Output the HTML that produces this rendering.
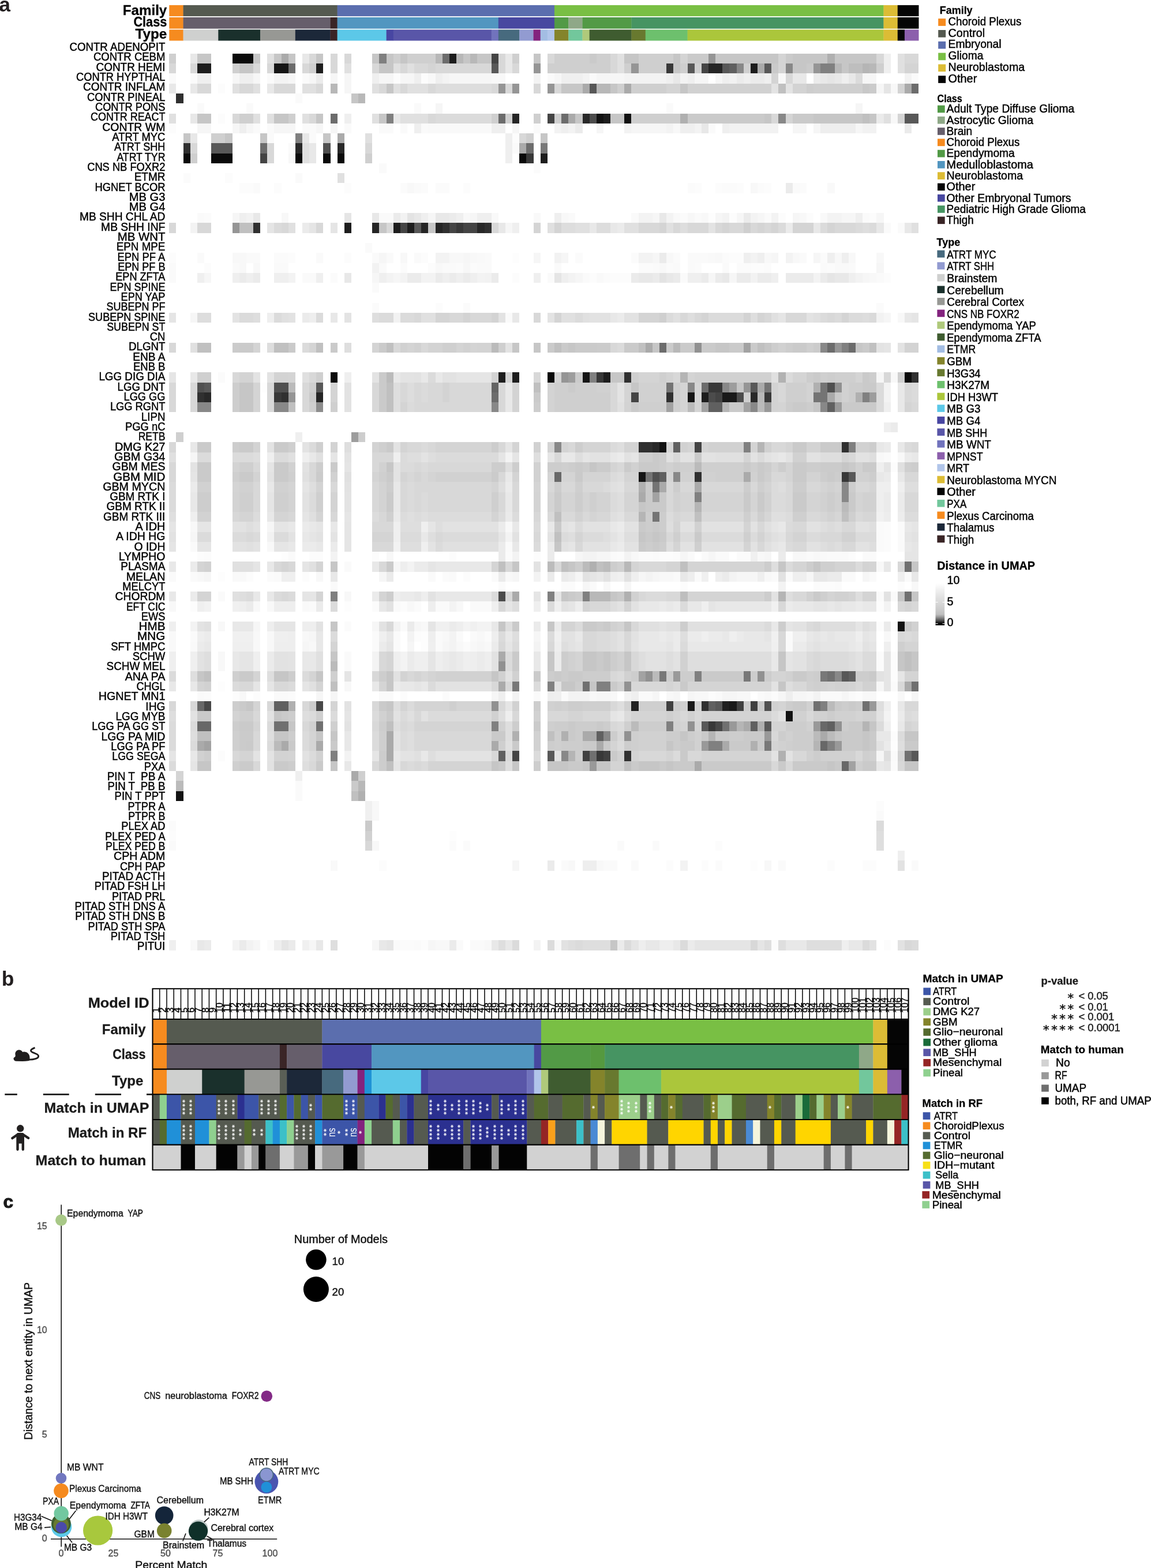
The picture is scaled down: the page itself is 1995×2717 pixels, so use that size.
<!DOCTYPE html>
<html lang="en"><head><meta charset="utf-8"><title>Figure</title>
<style>
html,body{margin:0;padding:0;background:#fff}
body{width:1995px;height:2717px;overflow:hidden}
svg{display:block;font-family:"Liberation Sans",sans-serif}
svg text{white-space:pre}
</style></head><body>
<svg width="1995" height="2717" viewBox="0 0 1995 2717">
<g id="panel-a">
<rect x="293.30" y="8.90" width="24.58" height="19.30" fill="#f68b1f"/>
<rect x="317.58" y="8.90" width="267.36" height="19.30" fill="#555a50"/>
<rect x="584.64" y="8.90" width="376.62" height="19.30" fill="#5b6eae"/>
<rect x="960.96" y="8.90" width="570.84" height="19.30" fill="#79bf44"/>
<rect x="1531.50" y="8.90" width="24.58" height="19.30" fill="#dcbc35"/>
<rect x="1555.78" y="8.90" width="36.72" height="19.30" fill="#050505"/>
<rect x="293.30" y="30.00" width="24.58" height="19.70" fill="#f68b1f"/>
<rect x="317.58" y="30.00" width="255.22" height="19.70" fill="#665e6b"/>
<rect x="572.50" y="30.00" width="12.44" height="19.70" fill="#3a2526"/>
<rect x="584.64" y="30.00" width="279.50" height="19.70" fill="#5296c0"/>
<rect x="863.84" y="30.00" width="97.41" height="19.70" fill="#4848a0"/>
<rect x="960.96" y="30.00" width="24.58" height="19.70" fill="#529a46"/>
<rect x="985.24" y="30.00" width="24.58" height="19.70" fill="#8fa888"/>
<rect x="1009.52" y="30.00" width="85.27" height="19.70" fill="#529a46"/>
<rect x="1094.49" y="30.00" width="437.31" height="19.70" fill="#469462"/>
<rect x="1531.50" y="30.00" width="24.58" height="19.70" fill="#dcbc35"/>
<rect x="1555.78" y="30.00" width="36.72" height="19.70" fill="#050505"/>
<rect x="293.30" y="51.30" width="24.58" height="19.20" fill="#f68b1f"/>
<rect x="317.58" y="51.30" width="61.00" height="19.20" fill="#cfd0cf"/>
<rect x="378.27" y="51.30" width="73.14" height="19.20" fill="#1a302c"/>
<rect x="451.11" y="51.30" width="61.00" height="19.20" fill="#979894"/>
<rect x="511.81" y="51.30" width="61.00" height="19.20" fill="#1c2839"/>
<rect x="572.50" y="51.30" width="12.44" height="19.20" fill="#3a2526"/>
<rect x="584.64" y="51.30" width="85.27" height="19.20" fill="#5cc8e8"/>
<rect x="669.62" y="51.30" width="12.44" height="19.20" fill="#4846a2"/>
<rect x="681.76" y="51.30" width="170.25" height="19.20" fill="#5956a8"/>
<rect x="851.71" y="51.30" width="12.44" height="19.20" fill="#7173bd"/>
<rect x="863.84" y="51.30" width="36.72" height="19.20" fill="#476a7e"/>
<rect x="900.26" y="51.30" width="24.58" height="19.20" fill="#929bd1"/>
<rect x="924.54" y="51.30" width="12.44" height="19.20" fill="#83237e"/>
<rect x="936.68" y="51.30" width="12.44" height="19.20" fill="#a3bde3"/>
<rect x="948.82" y="51.30" width="12.44" height="19.20" fill="#b1c5ea"/>
<rect x="960.96" y="51.30" width="24.58" height="19.20" fill="#84842b"/>
<rect x="985.24" y="51.30" width="24.58" height="19.20" fill="#72c79c"/>
<rect x="1009.52" y="51.30" width="12.44" height="19.20" fill="#afc97b"/>
<rect x="1021.66" y="51.30" width="73.14" height="19.20" fill="#3f5c30"/>
<rect x="1094.49" y="51.30" width="24.58" height="19.20" fill="#68792f"/>
<rect x="1118.77" y="51.30" width="73.14" height="19.20" fill="#6dc06d"/>
<rect x="1191.60" y="51.30" width="340.20" height="19.20" fill="#abc63b"/>
<rect x="1531.50" y="51.30" width="24.58" height="19.20" fill="#dcbc35"/>
<rect x="1555.78" y="51.30" width="12.44" height="19.20" fill="#050505"/>
<rect x="1567.92" y="51.30" width="24.58" height="19.20" fill="#8c5fac"/>
<text x="-1.80" y="19.50" font-size="35.5" font-weight="bold" fill="#231f20">a</text>
<text x="289.3" y="26.1" font-size="24.5" text-anchor="end" font-weight="bold" stroke="#000" stroke-width="0.3" textLength="76.5" lengthAdjust="spacingAndGlyphs">Family</text>
<text x="289.3" y="45.7" font-size="24.5" text-anchor="end" font-weight="bold" stroke="#000" stroke-width="0.3" textLength="57.9" lengthAdjust="spacingAndGlyphs">Class</text>
<text x="289.3" y="66.9" font-size="24.5" text-anchor="end" font-weight="bold" stroke="#000" stroke-width="0.3" textLength="54.9" lengthAdjust="spacingAndGlyphs">Type</text>
<g shape-rendering="crispEdges" transform="translate(293.3,75.7) scale(12.1393,17.264)">
<path fill="#0a0a0a" d="M9 1h3v1h-3zM2 11h1v1h-1zM6 11h3v1h-3zM18 11h1v1h-1zM22 11h1v1h-1zM24 11h1v1h-1zM50 11h1v1h-1zM23 33h1v1h-1zM54 33h1v1h-1zM105 33h1v1h-1z"/>
<path fill="#121212" d="M61 7h1v1h-1zM65 7h1v1h-1zM70 40h1v1h-1zM104 58h1v1h-1zM88 67h1v1h-1zM1 75h1v1h-1z"/>
<path fill="#151515" d="M15 2h2v1h-2zM59 33h1v1h-1zM74 35h1v1h-1zM67 43h1v1h-1z"/>
<path fill="#191919" d="M79 35h2v1h-2zM74 66h1v1h-1zM80 66h1v1h-1z"/>
<path fill="#1d1d1d" d="M40 1h1v1h-1zM4 2h2v1h-2zM21 2h1v1h-1zM83 2h1v1h-1zM62 7h1v1h-1zM53 11h1v1h-1zM25 18h1v1h-1zM32 18h1v1h-1zM34 18h1v1h-1zM47 33h1v1h-1zM49 33h1v1h-1zM62 33h1v1h-1zM76 35h1v1h-1z"/>
<path fill="#212121" d="M66 66h1v1h-1zM79 66h1v1h-1z"/>
<path fill="#252525" d="M77 2h2v1h-2zM49 7h1v1h-1zM29 18h1v1h-1zM36 18h1v1h-1zM38 18h1v1h-1zM21 35h1v1h-1z"/>
<path fill="#282828" d="M59 7h1v1h-1zM18 10h1v1h-1zM24 10h1v1h-1zM44 18h1v1h-1zM5 35h1v1h-1zM83 35h1v1h-1zM69 40h1v1h-1z"/>
<path fill="#303030" d="M1 5h1v1h-1zM2 10h1v1h-1zM12 18h1v1h-1zM39 18h1v1h-1zM45 18h1v1h-1zM65 33h1v1h-1zM106 33h1v1h-1zM4 35h1v1h-1zM16 35h1v1h-1zM71 35h1v1h-1zM67 40h2v1h-2zM96 40h1v1h-1zM75 43h1v1h-1zM76 66h1v1h-1zM65 71h1v1h-1z"/>
<path fill="#383838" d="M71 2h1v1h-1zM51 11h1v1h-1zM41 18h1v1h-1zM61 33h1v1h-1zM77 34h2v1h-2zM15 35h1v1h-1zM85 35h1v1h-1zM96 43h1v1h-1zM77 68h1v1h-1zM61 71h1v1h-1z"/>
<path fill="#404040" d="M71 66h1v1h-1zM81 66h1v1h-1zM83 66h1v1h-1zM59 71h1v1h-1zM62 71h1v1h-1z"/>
<path fill="#444444" d="M46 1h1v1h-1zM76 2h1v1h-1zM54 7h1v1h-1zM13 11h1v1h-1zM33 18h1v1h-1zM40 18h1v1h-1zM42 18h2v1h-2zM66 35h1v1h-1zM78 35h1v1h-1zM75 40h1v1h-1zM49 71h1v1h-1z"/>
<path fill="#484848" d="M5 66h1v1h-1zM21 66h1v1h-1zM78 68h1v1h-1z"/>
<path fill="#4c4c4c" d="M60 7h1v1h-1zM77 35h1v1h-1zM81 35h1v1h-1zM47 55h1v1h-1z"/>
<path fill="#505050" d="M22 10h1v1h-1zM4 34h1v1h-1zM15 34h2v1h-2zM94 34h1v1h-1zM69 43h1v1h-1zM85 66h1v1h-1z"/>
<path fill="#585858" d="M46 2h1v1h-1zM74 2h1v1h-1zM79 2h1v1h-1zM85 2h1v1h-1zM60 4h1v1h-1zM105 7h2v1h-2zM6 10h3v1h-3zM35 18h1v1h-1zM5 34h1v1h-1zM21 34h1v1h-1zM83 34h1v1h-1zM97 43h1v1h-1zM96 63h1v1h-1zM78 66h1v1h-1zM76 68h1v1h-1zM85 68h1v1h-1zM54 71h1v1h-1zM106 71h1v1h-1z"/>
<path fill="#606060" d="M80 2h1v1h-1zM77 36h2v1h-2zM94 36h1v1h-1zM72 40h1v1h-1zM70 43h1v1h-1zM97 63h1v1h-1zM15 66h2v1h-2zM77 66h1v1h-1zM83 68h1v1h-1zM94 68h1v1h-1zM61 69h1v1h-1zM47 71h1v1h-1z"/>
<path fill="#646464" d="M46 34h1v1h-1z"/>
<path fill="#686868" d="M55 43h1v1h-1zM4 66h1v1h-1zM4 68h2v1h-2zM93 68h1v1h-1zM93 70h1v1h-1zM96 72h1v1h-1z"/>
<path fill="#6c6c6c" d="M39 1h1v1h-1zM17 2h1v1h-1zM106 4h1v1h-1zM23 7h1v1h-1zM47 7h1v1h-1zM56 7h1v1h-1zM13 10h1v1h-1zM51 10h1v1h-1zM70 30h1v1h-1zM94 30h1v1h-1zM97 30h1v1h-1zM76 34h1v1h-1zM46 35h1v1h-1z"/>
<path fill="#707070" d="M105 52h1v1h-1zM105 55h1v1h-1zM94 63h1v1h-1zM59 64h1v1h-1zM106 64h1v1h-1zM92 66h1v1h-1zM99 66h1v1h-1zM15 68h2v1h-2zM21 68h1v1h-1zM79 68h1v1h-1zM60 71h1v1h-1zM105 71h1v1h-1z"/>
<path fill="#747474" d="M71 34h1v1h-1zM85 34h1v1h-1zM93 34h1v1h-1zM92 35h2v1h-2zM68 43h1v1h-1zM69 44h1v1h-1zM69 47h1v1h-1z"/>
<path fill="#787878" d="M53 10h1v1h-1zM70 63h1v1h-1zM82 63h1v1h-1zM93 63h1v1h-1zM49 64h1v1h-1zM85 70h1v1h-1z"/>
<path fill="#808080" d="M30 1h1v1h-1zM93 2h2v1h-2zM31 7h1v1h-1zM18 9h1v1h-1zM96 30h1v1h-1zM60 33h1v1h-1zM99 35h1v1h-1zM82 40h1v1h-1zM97 40h1v1h-1zM75 45h1v1h-1zM23 55h1v1h-1zM54 55h1v1h-1zM59 55h1v1h-1zM75 63h1v1h-1zM54 64h1v1h-1zM61 64h2v1h-2zM93 66h1v1h-1zM46 68h1v1h-1zM71 68h1v1h-1zM77 70h2v1h-2zM94 70h1v1h-1zM23 71h1v1h-1z"/>
<path fill="#888888" d="M81 2h1v1h-1zM88 2h1v1h-1zM87 7h1v1h-1zM93 30h1v1h-1zM74 34h1v1h-1zM79 34h1v1h-1zM4 36h2v1h-2zM15 36h2v1h-2zM46 36h1v1h-1zM83 36h1v1h-1zM93 36h1v1h-1zM55 40h1v1h-1zM72 43h1v1h-1zM96 44h1v1h-1zM96 45h1v1h-1zM95 63h1v1h-1zM62 69h1v1h-1zM56 71h1v1h-1z"/>
<path fill="#8d8d8d" d="M21 36h1v1h-1z"/>
<path fill="#919191" d="M75 30h1v1h-1zM95 34h1v1h-1zM47 62h1v1h-1zM68 63h1v1h-1zM84 63h1v1h-1zM65 64h1v1h-1zM46 66h1v1h-1zM74 68h1v1h-1zM95 68h1v1h-1zM65 69h1v1h-1z"/>
<path fill="#959595" d="M77 1h1v1h-1zM52 2h1v1h-1zM66 2h1v1h-1zM92 2h1v1h-1zM47 4h1v1h-1zM49 4h1v1h-1zM54 4h1v1h-1zM9 18h1v1h-1zM95 30h1v1h-1zM56 33h1v1h-1zM82 34h1v1h-1zM17 35h1v1h-1z"/>
<path fill="#999999" d="M85 36h1v1h-1zM95 36h1v1h-1zM72 63h1v1h-1zM100 66h1v1h-1zM80 68h1v1h-1zM92 68h1v1h-1zM85 69h1v1h-1zM76 70h1v1h-1zM95 70h1v1h-1zM60 72h1v1h-1z"/>
<path fill="#9d9d9d" d="M57 33h1v1h-1zM80 34h1v1h-1zM100 35h1v1h-1zM26 39h1v1h-1z"/>
<path fill="#a2a2a2" d="M82 30h1v1h-1zM71 36h1v1h-1zM76 36h1v1h-1zM82 36h1v1h-1zM69 45h1v1h-1zM67 63h1v1h-1zM5 70h1v1h-1zM97 72h1v1h-1z"/>
<path fill="#aaaaaa" d="M16 1h1v1h-1zM84 2h1v1h-1zM59 4h1v1h-1zM65 4h1v1h-1zM105 4h1v1h-1zM57 7h1v1h-1zM24 9h1v1h-1zM50 10h1v1h-1zM68 30h1v1h-1zM84 34h1v1h-1zM94 35h1v1h-1zM82 43h1v1h-1zM70 44h1v1h-1zM75 44h1v1h-1zM67 45h1v1h-1zM49 55h1v1h-1zM47 61h1v1h-1zM47 64h1v1h-1zM105 64h1v1h-1zM82 68h1v1h-1zM31 69h1v1h-1zM59 69h2v1h-2zM93 69h1v1h-1zM4 70h1v1h-1zM16 70h1v1h-1zM21 70h1v1h-1zM31 70h1v1h-1zM46 70h1v1h-1zM61 70h1v1h-1zM79 70h1v1h-1zM31 71h1v1h-1zM75 72h1v1h-1zM26 73h1v1h-1z"/>
<path fill="#b0b0b0" d="M94 1h1v1h-1zM73 7h1v1h-1zM92 34h1v1h-1zM98 35h1v1h-1zM67 44h1v1h-1zM60 52h1v1h-1zM65 55h1v1h-1zM17 66h1v1h-1zM84 68h1v1h-1zM49 69h1v1h-1zM56 69h1v1h-1zM83 70h1v1h-1zM87 71h1v1h-1zM27 75h1v1h-1z"/>
<path fill="#b2b2b2" d="M87 33h1v1h-1z"/>
<path fill="#b5b5b5" d="M99 2h1v1h-1zM73 33h1v1h-1zM79 36h1v1h-1zM84 40h1v1h-1zM75 46h1v1h-1zM67 47h1v1h-1zM87 55h1v1h-1zM81 68h1v1h-1zM99 68h1v1h-1zM77 69h1v1h-1zM92 70h1v1h-1zM57 71h1v1h-1z"/>
<path fill="#b8b8b8" d="M38 1h1v1h-1zM41 1h1v1h-1zM43 1h1v1h-1zM95 2h1v1h-1zM100 2h1v1h-1zM23 4h1v1h-1zM61 4h2v1h-2zM27 5h1v1h-1zM72 30h1v1h-1zM84 35h1v1h-1zM65 52h1v1h-1zM60 55h3v1h-3zM27 74h1v1h-1z"/>
<path fill="#bbbbbb" d="M46 30h1v1h-1zM31 33h1v1h-1zM17 34h1v1h-1zM74 36h1v1h-1zM84 36h1v1h-1zM75 42h1v1h-1zM96 46h1v1h-1zM54 52h1v1h-1zM59 52h1v1h-1zM62 52h1v1h-1zM23 62h1v1h-1zM69 63h1v1h-1zM94 66h1v1h-1zM66 68h1v1h-1zM92 69h1v1h-1zM94 69h1v1h-1zM15 70h1v1h-1zM1 74h1v1h-1z"/>
<path fill="#bebebe" d="M97 2h2v1h-2zM73 55h1v1h-1z"/>
<path fill="#c0c0c0" d="M87 4h1v1h-1zM99 7h1v1h-1zM10 18h2v1h-2zM4 30h2v1h-2zM15 30h2v1h-2zM21 30h1v1h-1zM31 30h1v1h-1zM55 30h1v1h-1zM67 30h1v1h-1zM84 30h1v1h-1zM100 30h1v1h-1zM31 34h1v1h-1zM52 34h1v1h-1zM31 35h1v1h-1zM17 36h1v1h-1zM31 36h1v1h-1zM55 47h1v1h-1zM75 47h1v1h-1zM96 47h1v1h-1zM55 49h1v1h-1zM47 52h1v1h-1zM56 52h1v1h-1zM61 52h1v1h-1zM73 52h1v1h-1zM105 61h1v1h-1zM105 62h1v1h-1zM5 63h1v1h-1zM23 64h1v1h-1zM31 68h1v1h-1zM4 69h2v1h-2zM54 69h1v1h-1zM31 72h1v1h-1zM65 72h1v1h-1zM26 75h1v1h-1z"/>
<path fill="#c6c6c6" d="M4 1h2v1h-2zM12 1h1v1h-1zM15 1h1v1h-1zM17 1h1v1h-1zM21 1h1v1h-1zM29 1h1v1h-1zM31 1h1v1h-1zM33 1h1v1h-1zM42 1h1v1h-1zM44 1h2v1h-2zM52 1h1v1h-1zM65 1h2v1h-2zM72 1h1v1h-1zM78 1h9v1h-9zM89 1h5v1h-5zM95 1h6v1h-6zM10 2h2v1h-2zM30 2h2v1h-2zM72 2h1v1h-1zM89 2h2v1h-2zM96 2h1v1h-1zM31 4h1v1h-1zM56 4h3v1h-3zM63 4h1v1h-1zM73 4h1v1h-1zM26 5h1v1h-1zM4 7h2v1h-2zM15 7h2v1h-2zM21 7h1v1h-1zM30 7h1v1h-1zM58 7h1v1h-1zM63 7h2v1h-2zM85 7h1v1h-1zM92 7h7v1h-7zM100 7h1v1h-1zM2 9h1v1h-1zM8 9h1v1h-1zM13 9h1v1h-1zM22 9h1v1h-1zM53 9h1v1h-1zM30 18h1v1h-1zM37 18h1v1h-1zM49 30h1v1h-1zM52 30h1v1h-1zM57 30h1v1h-1zM69 30h1v1h-1zM78 30h2v1h-2zM85 30h1v1h-1zM98 30h1v1h-1zM63 33h2v1h-2zM10 34h2v1h-2zM66 34h1v1h-1zM81 34h1v1h-1zM10 35h2v1h-2zM10 36h2v1h-2zM92 36h1v1h-1zM31 42h1v1h-1zM60 42h1v1h-1zM96 42h1v1h-1zM67 46h1v1h-1zM67 49h1v1h-1zM69 49h1v1h-1zM55 50h1v1h-1zM23 52h1v1h-1zM49 52h1v1h-1zM57 52h1v1h-1zM87 52h1v1h-1zM92 52h1v1h-1zM106 52h1v1h-1zM56 55h1v1h-1zM63 55h1v1h-1zM104 55h1v1h-1zM106 55h1v1h-1zM23 58h1v1h-1zM47 58h1v1h-1zM54 58h1v1h-1zM65 58h1v1h-1zM23 61h1v1h-1zM54 61h1v1h-1zM59 61h2v1h-2zM62 61h1v1h-1zM65 61h1v1h-1zM87 61h1v1h-1zM104 61h1v1h-1zM106 61h1v1h-1zM54 62h1v1h-1zM59 62h2v1h-2zM62 62h1v1h-1zM65 62h1v1h-1zM87 62h1v1h-1zM104 62h1v1h-1zM106 62h1v1h-1zM4 63h1v1h-1zM15 63h2v1h-2zM21 63h1v1h-1zM31 63h1v1h-1zM46 63h1v1h-1zM31 64h1v1h-1zM56 64h2v1h-2zM60 64h1v1h-1zM87 64h1v1h-1zM11 66h1v1h-1zM31 66h1v1h-1zM15 67h1v1h-1zM17 68h1v1h-1zM100 68h1v1h-1zM15 69h2v1h-2zM21 69h1v1h-1zM23 69h1v1h-1zM73 69h1v1h-1zM95 69h1v1h-1zM99 69h1v1h-1zM105 69h2v1h-2zM71 70h1v1h-1zM99 70h1v1h-1zM4 72h2v1h-2zM23 72h1v1h-1zM46 72h1v1h-1zM49 72h1v1h-1zM54 72h3v1h-3zM59 72h1v1h-1zM61 72h2v1h-2zM67 72h3v1h-3zM71 72h1v1h-1zM94 72h1v1h-1zM105 72h2v1h-2zM63 90h1v1h-1z"/>
<path fill="#c8c8c8" d="M99 4h1v1h-1z"/>
<path fill="#cacaca" d="M60 1h1v1h-1zM74 1h3v1h-3zM88 1h1v1h-1zM86 2h1v1h-1zM91 2h1v1h-1zM74 7h11v1h-11zM89 7h3v1h-3zM10 30h2v1h-2zM17 30h1v1h-1zM23 30h1v1h-1zM30 30h1v1h-1zM54 30h1v1h-1zM56 30h1v1h-1zM58 30h3v1h-3zM65 30h2v1h-2zM71 30h1v1h-1zM73 30h2v1h-2zM76 30h2v1h-2zM80 30h2v1h-2zM83 30h1v1h-1zM89 30h2v1h-2zM99 30h1v1h-1zM30 33h1v1h-1zM92 33h1v1h-1zM99 33h1v1h-1zM30 34h1v1h-1zM99 34h2v1h-2zM20 35h1v1h-1zM30 35h1v1h-1zM52 35h1v1h-1zM95 35h1v1h-1zM30 36h1v1h-1zM66 36h1v1h-1zM80 36h2v1h-2zM89 36h2v1h-2zM96 36h5v1h-5zM4 40h2v1h-2zM10 40h2v1h-2zM15 40h2v1h-2zM31 40h1v1h-1zM89 40h2v1h-2zM93 40h3v1h-3zM69 41h1v1h-1zM75 41h1v1h-1zM4 42h2v1h-2zM15 42h2v1h-2zM23 42h1v1h-1zM58 42h1v1h-1zM67 42h3v1h-3zM82 42h1v1h-1zM84 42h1v1h-1zM89 42h2v1h-2zM97 42h1v1h-1zM99 42h2v1h-2zM4 43h2v1h-2zM10 43h2v1h-2zM15 43h2v1h-2zM31 43h1v1h-1zM58 43h1v1h-1zM84 43h1v1h-1zM89 43h2v1h-2zM94 43h1v1h-1zM68 44h1v1h-1zM31 45h1v1h-1zM55 45h1v1h-1zM68 45h1v1h-1zM70 45h1v1h-1zM82 45h1v1h-1zM84 45h1v1h-1zM89 45h2v1h-2zM97 45h1v1h-1zM31 46h1v1h-1zM55 46h1v1h-1zM68 46h3v1h-3zM82 46h1v1h-1zM84 46h1v1h-1zM89 46h2v1h-2zM97 46h1v1h-1zM55 48h1v1h-1zM67 48h1v1h-1zM69 48h1v1h-1zM68 49h1v1h-1zM70 49h1v1h-1zM75 49h1v1h-1zM67 50h1v1h-1zM69 50h1v1h-1zM31 52h1v1h-1zM57 55h1v1h-1zM64 55h1v1h-1zM92 55h1v1h-1zM49 58h1v1h-1zM59 58h2v1h-2zM62 58h1v1h-1zM105 58h1v1h-1zM49 61h1v1h-1zM61 61h1v1h-1zM49 62h1v1h-1zM61 62h1v1h-1zM10 63h2v1h-2zM52 63h1v1h-1zM55 63h1v1h-1zM57 63h2v1h-2zM76 63h6v1h-6zM89 63h2v1h-2zM100 63h1v1h-1zM63 64h1v1h-1zM73 64h1v1h-1zM10 66h1v1h-1zM30 66h1v1h-1zM84 66h1v1h-1zM89 66h2v1h-2zM95 66h1v1h-1zM97 66h1v1h-1zM4 67h2v1h-2zM16 67h1v1h-1zM31 67h1v1h-1zM10 68h2v1h-2zM52 68h1v1h-1zM57 68h1v1h-1zM61 68h1v1h-1zM97 68h2v1h-2zM46 69h2v1h-2zM57 69h1v1h-1zM76 69h1v1h-1zM78 69h2v1h-2zM82 69h3v1h-3zM96 69h3v1h-3zM100 69h1v1h-1zM11 70h1v1h-1zM17 70h1v1h-1zM23 70h1v1h-1zM49 70h1v1h-1zM59 70h2v1h-2zM62 70h1v1h-1zM73 70h2v1h-2zM80 70h3v1h-3zM84 70h1v1h-1zM96 70h3v1h-3zM100 70h1v1h-1zM105 70h2v1h-2zM63 71h1v1h-1zM73 71h1v1h-1zM15 72h2v1h-2zM21 72h1v1h-1zM47 72h1v1h-1zM57 72h2v1h-2zM66 72h1v1h-1zM70 72h1v1h-1zM72 72h3v1h-3zM76 72h10v1h-10zM87 72h1v1h-1zM89 72h5v1h-5zM95 72h1v1h-1zM99 72h2v1h-2zM26 74h1v1h-1zM28 78h1v1h-1z"/>
<path fill="#cbcbcb" d="M100 4h1v1h-1zM9 30h1v1h-1zM61 30h2v1h-2zM92 30h1v1h-1zM58 33h1v1h-1zM57 34h1v1h-1zM61 42h2v1h-2zM65 42h1v1h-1zM93 42h3v1h-3zM21 43h1v1h-1zM46 43h1v1h-1zM10 69h2v1h-2zM10 70h1v1h-1zM10 72h2v1h-2z"/>
<path fill="#cdcdcd" d="M91 4h1v1h-1zM86 30h1v1h-1zM88 30h1v1h-1zM91 33h1v1h-1zM94 33h1v1h-1zM100 33h1v1h-1zM9 34h1v1h-1zM97 34h2v1h-2zM9 35h1v1h-1zM97 35h1v1h-1zM9 36h1v1h-1zM52 36h1v1h-1zM88 36h1v1h-1zM91 36h1v1h-1zM27 39h1v1h-1zM9 40h1v1h-1zM46 40h1v1h-1zM58 40h1v1h-1zM100 40h1v1h-1zM70 41h1v1h-1zM21 42h1v1h-1zM46 42h2v1h-2zM49 42h1v1h-1zM54 42h2v1h-2zM57 42h1v1h-1zM59 42h1v1h-1zM70 42h1v1h-1zM72 42h1v1h-1zM85 42h1v1h-1zM87 42h1v1h-1zM91 42h2v1h-2zM106 42h1v1h-1zM93 43h1v1h-1zM95 43h1v1h-1zM100 43h1v1h-1zM31 44h1v1h-1zM55 44h1v1h-1zM72 44h1v1h-1zM82 44h1v1h-1zM89 44h2v1h-2zM97 44h1v1h-1zM4 45h2v1h-2zM58 45h1v1h-1zM94 45h1v1h-1zM4 46h2v1h-2zM58 46h1v1h-1zM94 46h1v1h-1zM68 47h1v1h-1zM70 47h1v1h-1zM68 48h1v1h-1zM70 48h1v1h-1zM68 50h1v1h-1zM70 50h1v1h-1zM58 52h1v1h-1zM63 52h1v1h-1zM85 52h1v1h-1zM91 52h1v1h-1zM31 55h1v1h-1zM58 55h1v1h-1zM85 55h1v1h-1zM61 58h1v1h-1zM73 58h1v1h-1zM87 58h1v1h-1zM56 61h1v1h-1zM63 61h1v1h-1zM56 62h1v1h-1zM63 62h1v1h-1zM17 63h1v1h-1zM30 63h1v1h-1zM54 63h1v1h-1zM56 63h1v1h-1zM59 63h4v1h-4zM66 63h1v1h-1zM71 63h1v1h-1zM73 63h2v1h-2zM83 63h1v1h-1zM85 63h1v1h-1zM92 63h1v1h-1zM98 63h2v1h-2zM58 64h1v1h-1zM9 66h1v1h-1zM20 66h1v1h-1zM52 66h1v1h-1zM57 66h2v1h-2zM72 66h1v1h-1zM82 66h1v1h-1zM88 66h1v1h-1zM96 66h1v1h-1zM98 66h1v1h-1zM17 67h1v1h-1zM94 67h1v1h-1zM9 68h1v1h-1zM30 68h1v1h-1zM49 68h1v1h-1zM55 68h2v1h-2zM58 68h3v1h-3zM62 68h1v1h-1zM67 68h4v1h-4zM88 68h3v1h-3zM96 68h1v1h-1zM17 69h1v1h-1zM58 69h1v1h-1zM63 69h1v1h-1zM71 69h2v1h-2zM74 69h1v1h-1zM80 69h2v1h-2zM87 69h1v1h-1zM89 69h3v1h-3zM54 70h1v1h-1zM56 70h3v1h-3zM65 70h1v1h-1zM72 70h1v1h-1zM89 70h3v1h-3zM5 71h1v1h-1zM30 71h1v1h-1zM58 71h1v1h-1zM92 71h1v1h-1zM17 72h1v1h-1zM30 72h1v1h-1zM52 72h1v1h-1z"/>
<path fill="#cfcfcf" d="M0 1h1v1h-1zM32 1h1v1h-1zM34 1h4v1h-4zM49 1h1v1h-1zM55 1h5v1h-5zM61 1h2v1h-2zM67 1h5v1h-5zM9 2h1v1h-1zM20 2h1v1h-1zM54 2h9v1h-9zM65 2h1v1h-1zM67 2h4v1h-4zM73 2h1v1h-1zM75 2h1v1h-1zM82 2h1v1h-1zM101 2h1v1h-1zM64 4h1v1h-1zM66 4h5v1h-5zM92 4h7v1h-7zM10 7h2v1h-2zM17 7h1v1h-1zM46 7h1v1h-1zM48 7h1v1h-1zM52 7h1v1h-1zM55 7h1v1h-1zM66 7h7v1h-7zM6 9h2v1h-2zM51 9h1v1h-1zM3 11h1v1h-1zM28 11h1v1h-1zM82 18h1v1h-1zM70 27h1v1h-1zM39 30h2v1h-2zM47 30h1v1h-1zM91 30h1v1h-1zM4 33h2v1h-2zM21 33h1v1h-1zM66 33h1v1h-1zM70 33h1v1h-1zM93 33h1v1h-1zM95 33h3v1h-3zM104 33h1v1h-1zM20 34h1v1h-1zM55 34h2v1h-2zM58 34h3v1h-3zM72 34h1v1h-1zM88 34h3v1h-3zM55 35h8v1h-8zM72 35h1v1h-1zM82 35h1v1h-1zM88 35h3v1h-3zM20 36h1v1h-1zM23 36h1v1h-1zM55 36h8v1h-8zM67 36h4v1h-4zM72 36h1v1h-1zM1 39h1v1h-1zM17 40h1v1h-1zM21 40h1v1h-1zM30 40h1v1h-1zM67 41h2v1h-2zM10 42h2v1h-2zM56 42h1v1h-1zM73 42h2v1h-2zM76 42h6v1h-6zM83 42h1v1h-1zM105 42h1v1h-1zM9 43h1v1h-1zM17 43h1v1h-1zM30 43h1v1h-1zM78 43h4v1h-4zM85 43h1v1h-1zM58 44h1v1h-1zM84 44h1v1h-1zM10 45h2v1h-2zM15 45h2v1h-2zM21 45h1v1h-1zM46 45h1v1h-1zM60 45h1v1h-1zM10 46h2v1h-2zM15 46h2v1h-2zM21 46h1v1h-1zM46 46h1v1h-1zM60 46h1v1h-1zM31 47h1v1h-1zM82 47h1v1h-1zM84 47h1v1h-1zM89 47h2v1h-2zM97 47h1v1h-1zM72 49h1v1h-1zM82 49h1v1h-1zM75 50h1v1h-1zM93 52h2v1h-2zM93 55h1v1h-1zM104 60h1v1h-1zM9 63h1v1h-1zM23 63h1v1h-1zM91 63h1v1h-1zM92 64h1v1h-1zM40 66h1v1h-1zM55 66h1v1h-1zM59 66h4v1h-4zM67 66h4v1h-4zM10 67h2v1h-2zM21 67h1v1h-1zM71 67h1v1h-1zM23 68h1v1h-1zM54 68h1v1h-1zM65 68h1v1h-1zM9 69h1v1h-1zM30 69h1v1h-1zM55 69h1v1h-1zM66 69h1v1h-1zM9 70h1v1h-1zM30 70h1v1h-1zM47 70h1v1h-1zM55 70h1v1h-1zM66 70h1v1h-1zM88 70h1v1h-1zM99 71h1v1h-1zM9 72h1v1h-1zM98 72h1v1h-1zM27 73h1v1h-1z"/>
<path fill="#d1d1d1" d="M74 4h12v1h-12zM33 30h1v1h-1zM35 30h1v1h-1zM42 30h1v1h-1zM87 30h1v1h-1zM75 33h11v1h-11zM61 34h2v1h-2zM67 34h4v1h-4zM96 34h1v1h-1zM67 35h4v1h-4zM96 35h1v1h-1zM52 40h1v1h-1zM73 40h1v1h-1zM77 40h5v1h-5zM85 40h1v1h-1zM98 40h2v1h-2zM89 41h2v1h-2zM17 42h1v1h-1zM30 42h1v1h-1zM52 42h1v1h-1zM66 42h1v1h-1zM71 42h1v1h-1zM98 42h1v1h-1zM23 43h1v1h-1zM38 43h8v1h-8zM52 43h1v1h-1zM73 43h2v1h-2zM76 43h2v1h-2zM83 43h1v1h-1zM98 43h2v1h-2zM4 44h2v1h-2zM10 44h2v1h-2zM15 44h2v1h-2zM94 44h1v1h-1zM72 45h1v1h-1zM85 45h1v1h-1zM93 45h1v1h-1zM95 45h1v1h-1zM99 45h2v1h-2zM72 46h1v1h-1zM85 46h1v1h-1zM93 46h1v1h-1zM95 46h1v1h-1zM99 46h2v1h-2zM75 48h1v1h-1zM96 49h2v1h-2zM5 52h1v1h-1zM64 52h1v1h-1zM66 55h1v1h-1zM91 55h1v1h-1zM95 55h2v1h-2zM63 58h1v1h-1zM106 58h1v1h-1zM57 61h1v1h-1zM64 61h1v1h-1zM73 61h1v1h-1zM57 62h1v1h-1zM64 62h1v1h-1zM73 62h1v1h-1zM38 63h8v1h-8zM47 63h1v1h-1zM49 63h1v1h-1zM65 63h1v1h-1zM88 63h1v1h-1zM5 64h1v1h-1zM64 64h1v1h-1zM91 64h1v1h-1zM93 64h1v1h-1zM95 64h2v1h-2zM99 64h2v1h-2zM49 66h1v1h-1zM54 66h1v1h-1zM56 66h1v1h-1zM65 66h1v1h-1zM73 66h1v1h-1zM75 66h1v1h-1zM86 66h1v1h-1zM91 66h1v1h-1zM30 67h1v1h-1zM46 67h1v1h-1zM52 67h1v1h-1zM74 67h1v1h-1zM89 67h2v1h-2zM92 67h2v1h-2zM95 67h3v1h-3zM99 67h2v1h-2zM20 68h1v1h-1zM47 68h1v1h-1zM72 68h1v1h-1zM91 68h1v1h-1zM52 69h1v1h-1zM67 69h4v1h-4zM75 69h1v1h-1zM88 69h1v1h-1zM52 70h1v1h-1zM67 70h4v1h-4zM75 70h1v1h-1zM87 70h1v1h-1zM4 71h1v1h-1zM21 71h1v1h-1zM64 71h1v1h-1zM91 71h1v1h-1zM93 71h5v1h-5zM100 71h1v1h-1zM28 79h1v1h-1z"/>
<path fill="#d2d2d2" d="M4 47h2v1h-2zM58 47h1v1h-1zM94 47h1v1h-1z"/>
<path fill="#d3d3d3" d="M89 4h2v1h-2zM104 4h1v1h-1zM42 27h1v1h-1zM46 27h1v1h-1zM82 27h1v1h-1zM37 30h2v1h-2zM44 30h2v1h-2zM105 30h2v1h-2zM10 33h2v1h-2zM15 33h2v1h-2zM46 33h1v1h-1zM48 33h1v1h-1zM71 33h1v1h-1zM39 34h1v1h-1zM49 34h1v1h-1zM54 34h1v1h-1zM86 34h1v1h-1zM91 34h1v1h-1zM39 35h1v1h-1zM49 35h1v1h-1zM54 35h1v1h-1zM86 35h1v1h-1zM91 35h1v1h-1zM49 36h1v1h-1zM54 36h1v1h-1zM65 36h1v1h-1zM86 36h1v1h-1zM12 40h1v1h-1zM23 40h1v1h-1zM29 40h1v1h-1zM91 40h2v1h-2zM9 42h1v1h-1zM12 43h1v1h-1zM91 43h2v1h-2zM21 44h1v1h-1zM30 44h1v1h-1zM9 45h1v1h-1zM17 45h1v1h-1zM23 45h1v1h-1zM30 45h1v1h-1zM52 45h1v1h-1zM61 45h2v1h-2zM9 46h1v1h-1zM17 46h1v1h-1zM23 46h1v1h-1zM30 46h1v1h-1zM52 46h1v1h-1zM61 46h2v1h-2zM84 49h1v1h-1zM89 49h2v1h-2zM95 52h3v1h-3zM99 52h1v1h-1zM33 63h1v1h-1zM94 64h1v1h-1zM97 64h1v1h-1zM9 67h1v1h-1zM76 67h10v1h-10zM15 71h2v1h-2z"/>
<path fill="#d4d4d4" d="M73 1h1v1h-1zM87 1h1v1h-1zM37 2h1v1h-1zM87 2h1v1h-1zM105 2h2v1h-2zM86 3h1v1h-1zM71 4h2v1h-2zM88 7h1v1h-1zM104 7h1v1h-1zM52 18h1v1h-1zM55 18h1v1h-1zM70 18h1v1h-1zM79 18h1v1h-1zM84 18h1v1h-1zM86 18h1v1h-1zM89 18h3v1h-3zM94 18h1v1h-1zM38 27h2v1h-2zM55 27h1v1h-1zM67 27h3v1h-3zM76 27h1v1h-1zM84 27h1v1h-1zM96 27h1v1h-1zM12 30h1v1h-1zM20 30h1v1h-1zM29 30h1v1h-1zM34 30h1v1h-1zM41 30h1v1h-1zM43 30h1v1h-1zM17 33h1v1h-1zM55 33h1v1h-1zM67 33h3v1h-3zM74 33h1v1h-1zM89 33h2v1h-2zM98 33h1v1h-1zM12 34h1v1h-1zM23 34h1v1h-1zM65 34h1v1h-1zM73 34h1v1h-1zM75 34h1v1h-1zM12 35h1v1h-1zM23 35h1v1h-1zM65 35h1v1h-1zM73 35h1v1h-1zM75 35h1v1h-1zM12 36h1v1h-1zM33 36h1v1h-1zM73 36h1v1h-1zM75 36h1v1h-1zM87 36h1v1h-1zM105 36h1v1h-1zM33 40h1v1h-1zM38 40h8v1h-8zM49 40h1v1h-1zM54 40h1v1h-1zM56 40h1v1h-1zM59 40h4v1h-4zM65 40h2v1h-2zM71 40h1v1h-1zM74 40h1v1h-1zM76 40h1v1h-1zM83 40h1v1h-1zM88 40h1v1h-1zM82 41h1v1h-1zM96 41h1v1h-1zM63 42h1v1h-1zM86 42h1v1h-1zM88 42h1v1h-1zM29 43h1v1h-1zM33 43h1v1h-1zM35 43h1v1h-1zM37 43h1v1h-1zM49 43h1v1h-1zM54 43h1v1h-1zM56 43h2v1h-2zM59 43h4v1h-4zM65 43h2v1h-2zM71 43h1v1h-1zM88 43h1v1h-1zM9 44h1v1h-1zM17 44h1v1h-1zM46 44h1v1h-1zM52 44h1v1h-1zM85 44h1v1h-1zM93 44h1v1h-1zM95 44h1v1h-1zM100 44h1v1h-1zM54 45h1v1h-1zM56 45h2v1h-2zM59 45h1v1h-1zM65 45h2v1h-2zM73 45h2v1h-2zM76 45h6v1h-6zM83 45h1v1h-1zM91 45h2v1h-2zM98 45h1v1h-1zM54 46h1v1h-1zM56 46h2v1h-2zM59 46h1v1h-1zM65 46h2v1h-2zM73 46h2v1h-2zM76 46h6v1h-6zM83 46h1v1h-1zM91 46h2v1h-2zM98 46h1v1h-1zM10 47h2v1h-2zM15 47h2v1h-2zM21 47h1v1h-1zM46 47h1v1h-1zM60 47h1v1h-1zM72 48h1v1h-1zM82 48h1v1h-1zM29 49h3v1h-3zM58 49h1v1h-1zM72 50h1v1h-1zM82 50h1v1h-1zM4 52h1v1h-1zM16 52h1v1h-1zM21 52h1v1h-1zM46 52h1v1h-1zM66 52h1v1h-1zM71 52h2v1h-2zM74 52h11v1h-11zM89 52h2v1h-2zM100 52h1v1h-1zM4 55h2v1h-2zM21 55h1v1h-1zM30 55h1v1h-1zM74 55h11v1h-11zM94 55h1v1h-1zM97 55h1v1h-1zM99 55h2v1h-2zM59 56h1v1h-1zM65 56h1v1h-1zM105 56h1v1h-1zM56 58h2v1h-2zM64 58h1v1h-1zM23 60h1v1h-1zM105 60h2v1h-2zM31 61h1v1h-1zM58 61h1v1h-1zM31 62h1v1h-1zM58 62h1v1h-1zM12 63h1v1h-1zM20 63h1v1h-1zM35 63h1v1h-1zM37 63h1v1h-1zM86 63h2v1h-2zM105 63h2v1h-2zM4 64h1v1h-1zM21 64h1v1h-1zM30 64h1v1h-1zM71 64h1v1h-1zM74 64h12v1h-12zM12 66h1v1h-1zM23 66h1v1h-1zM33 66h1v1h-1zM35 66h5v1h-5zM41 66h5v1h-5zM87 66h1v1h-1zM57 67h2v1h-2zM66 67h5v1h-5zM72 67h1v1h-1zM98 67h1v1h-1zM12 68h1v1h-1zM35 68h11v1h-11zM73 68h1v1h-1zM75 68h1v1h-1zM86 68h2v1h-2zM105 68h1v1h-1zM20 69h1v1h-1zM20 70h1v1h-1zM63 70h1v1h-1zM86 70h1v1h-1zM10 71h2v1h-2zM17 71h1v1h-1zM66 71h1v1h-1zM71 71h1v1h-1zM76 71h10v1h-10zM104 71h1v1h-1zM37 72h9v1h-9zM63 72h2v1h-2zM1 73h1v1h-1z"/>
<path fill="#d6d6d6" d="M72 47h1v1h-1zM85 47h1v1h-1zM93 47h1v1h-1zM95 47h1v1h-1zM99 47h2v1h-2z"/>
<path fill="#d7d7d7" d="M9 47h1v1h-1zM17 47h1v1h-1zM23 47h1v1h-1zM30 47h1v1h-1zM52 47h1v1h-1zM61 47h2v1h-2z"/>
<path fill="#d8d8d8" d="M20 1h1v1h-1zM23 1h1v1h-1zM25 1h1v1h-1zM47 1h1v1h-1zM54 1h1v1h-1zM63 1h1v1h-1zM101 1h1v1h-1zM105 1h2v1h-2zM0 2h1v1h-1zM3 2h1v1h-1zM12 2h1v1h-1zM14 2h1v1h-1zM19 2h1v1h-1zM23 2h1v1h-1zM29 2h1v1h-1zM33 2h1v1h-1zM35 2h2v1h-2zM38 2h8v1h-8zM47 2h1v1h-1zM49 2h1v1h-1zM63 2h1v1h-1zM88 3h1v1h-1zM4 4h2v1h-2zM10 4h2v1h-2zM15 4h3v1h-3zM21 4h1v1h-1zM30 4h1v1h-1zM33 4h1v1h-1zM37 4h1v1h-1zM46 4h1v1h-1zM48 4h1v1h-1zM52 4h1v1h-1zM55 4h1v1h-1zM9 7h1v1h-1zM20 7h1v1h-1zM37 7h1v1h-1zM86 7h1v1h-1zM50 9h1v1h-1zM3 10h1v1h-1zM14 10h1v1h-1zM28 10h1v1h-1zM14 11h1v1h-1zM0 18h1v1h-1zM4 18h2v1h-2zM16 18h1v1h-1zM21 18h1v1h-1zM31 18h1v1h-1zM46 18h1v1h-1zM67 18h3v1h-3zM72 18h1v1h-1zM74 18h3v1h-3zM78 18h1v1h-1zM80 18h2v1h-2zM83 18h1v1h-1zM85 18h1v1h-1zM95 18h3v1h-3zM35 27h1v1h-1zM40 27h2v1h-2zM43 27h3v1h-3zM52 27h1v1h-1zM73 27h1v1h-1zM75 27h1v1h-1zM85 27h1v1h-1zM88 27h3v1h-3zM94 27h1v1h-1zM0 30h1v1h-1zM32 30h1v1h-1zM36 30h1v1h-1zM63 30h1v1h-1zM9 33h1v1h-1zM20 33h1v1h-1zM52 33h1v1h-1zM72 33h1v1h-1zM102 33h1v1h-1zM0 34h1v1h-1zM3 34h1v1h-1zM14 34h1v1h-1zM19 34h1v1h-1zM29 34h1v1h-1zM33 34h1v1h-1zM35 34h1v1h-1zM37 34h2v1h-2zM40 34h6v1h-6zM47 34h1v1h-1zM63 34h1v1h-1zM87 34h1v1h-1zM105 34h1v1h-1zM0 35h1v1h-1zM3 35h1v1h-1zM14 35h1v1h-1zM19 35h1v1h-1zM29 35h1v1h-1zM33 35h1v1h-1zM35 35h1v1h-1zM37 35h2v1h-2zM40 35h6v1h-6zM47 35h1v1h-1zM63 35h1v1h-1zM87 35h1v1h-1zM105 35h1v1h-1zM0 36h1v1h-1zM3 36h1v1h-1zM14 36h1v1h-1zM19 36h1v1h-1zM29 36h1v1h-1zM35 36h11v1h-11zM47 36h1v1h-1zM63 36h1v1h-1zM106 36h1v1h-1zM0 40h1v1h-1zM34 40h2v1h-2zM37 40h1v1h-1zM47 40h1v1h-1zM57 40h1v1h-1zM86 40h2v1h-2zM106 40h1v1h-1zM29 41h3v1h-3zM55 41h1v1h-1zM72 41h1v1h-1zM97 41h1v1h-1zM0 42h1v1h-1zM12 42h1v1h-1zM20 42h1v1h-1zM29 42h1v1h-1zM35 42h1v1h-1zM37 42h9v1h-9zM64 42h1v1h-1zM0 43h1v1h-1zM20 43h1v1h-1zM34 43h1v1h-1zM36 43h1v1h-1zM47 43h1v1h-1zM86 43h2v1h-2zM105 43h2v1h-2zM12 44h1v1h-1zM23 44h1v1h-1zM29 44h1v1h-1zM33 44h1v1h-1zM35 44h11v1h-11zM49 44h1v1h-1zM54 44h1v1h-1zM56 44h2v1h-2zM59 44h3v1h-3zM65 44h2v1h-2zM71 44h1v1h-1zM73 44h2v1h-2zM76 44h6v1h-6zM83 44h1v1h-1zM88 44h1v1h-1zM91 44h2v1h-2zM98 44h2v1h-2zM12 45h1v1h-1zM29 45h1v1h-1zM33 45h1v1h-1zM35 45h1v1h-1zM37 45h9v1h-9zM47 45h1v1h-1zM49 45h1v1h-1zM71 45h1v1h-1zM88 45h1v1h-1zM105 45h2v1h-2zM12 46h1v1h-1zM29 46h1v1h-1zM33 46h1v1h-1zM35 46h1v1h-1zM37 46h9v1h-9zM47 46h1v1h-1zM49 46h1v1h-1zM71 46h1v1h-1zM88 46h1v1h-1zM105 46h2v1h-2zM29 48h3v1h-3zM84 48h1v1h-1zM89 48h2v1h-2zM96 48h2v1h-2zM11 49h1v1h-1zM38 49h1v1h-1zM52 49h1v1h-1zM71 49h1v1h-1zM88 49h1v1h-1zM93 49h3v1h-3zM29 50h3v1h-3zM58 50h1v1h-1zM84 50h1v1h-1zM89 50h2v1h-2zM96 50h2v1h-2zM15 52h1v1h-1zM17 52h1v1h-1zM30 52h1v1h-1zM48 52h1v1h-1zM55 52h1v1h-1zM67 52h4v1h-4zM104 52h1v1h-1zM16 55h1v1h-1zM48 55h1v1h-1zM67 55h1v1h-1zM71 55h2v1h-2zM89 55h2v1h-2zM47 56h1v1h-1zM60 56h3v1h-3zM87 56h1v1h-1zM104 56h1v1h-1zM106 56h1v1h-1zM31 58h1v1h-1zM66 58h1v1h-1zM92 58h1v1h-1zM59 59h2v1h-2zM65 59h1v1h-1zM87 59h1v1h-1zM104 59h1v1h-1zM106 59h1v1h-1zM47 60h1v1h-1zM54 60h1v1h-1zM59 60h2v1h-2zM65 60h1v1h-1zM87 60h1v1h-1zM30 61h1v1h-1zM66 61h1v1h-1zM92 61h1v1h-1zM30 62h1v1h-1zM66 62h1v1h-1zM92 62h1v1h-1zM29 63h1v1h-1zM34 63h1v1h-1zM36 63h1v1h-1zM63 63h1v1h-1zM10 64h2v1h-2zM15 64h2v1h-2zM46 64h1v1h-1zM48 64h1v1h-1zM66 64h5v1h-5zM72 64h1v1h-1zM89 64h2v1h-2zM98 64h1v1h-1zM104 64h1v1h-1zM0 66h1v1h-1zM3 66h1v1h-1zM14 66h1v1h-1zM19 66h1v1h-1zM29 66h1v1h-1zM47 66h1v1h-1zM63 66h1v1h-1zM105 66h2v1h-2zM12 67h1v1h-1zM35 67h1v1h-1zM49 67h1v1h-1zM54 67h3v1h-3zM59 67h4v1h-4zM73 67h1v1h-1zM75 67h1v1h-1zM91 67h1v1h-1zM19 68h1v1h-1zM29 68h1v1h-1zM33 68h1v1h-1zM63 68h1v1h-1zM106 68h1v1h-1zM12 69h1v1h-1zM35 69h11v1h-11zM64 69h1v1h-1zM86 69h1v1h-1zM12 70h1v1h-1zM35 70h11v1h-11zM9 71h1v1h-1zM46 71h1v1h-1zM48 71h1v1h-1zM67 71h4v1h-4zM74 71h2v1h-2zM89 71h2v1h-2zM98 71h1v1h-1zM12 72h1v1h-1zM20 72h1v1h-1zM29 72h1v1h-1zM33 72h1v1h-1zM35 72h1v1h-1zM86 72h1v1h-1zM88 72h1v1h-1zM104 72h1v1h-1zM28 80h1v1h-1zM83 90h1v1h-1zM105 90h1v1h-1z"/>
<path fill="#d9d9d9" d="M54 47h1v1h-1zM56 47h2v1h-2zM59 47h1v1h-1zM65 47h2v1h-2zM73 47h2v1h-2zM76 47h6v1h-6zM83 47h1v1h-1zM91 47h2v1h-2zM98 47h1v1h-1z"/>
<path fill="#dadada" d="M100 27h1v1h-1z"/>
<path fill="#dbdbdb" d="M98 3h1v1h-1zM38 7h8v1h-8zM15 18h1v1h-1zM87 18h1v1h-1zM93 18h1v1h-1zM98 18h1v1h-1zM100 18h1v1h-1zM10 27h2v1h-2zM15 27h1v1h-1zM21 27h1v1h-1zM30 27h2v1h-2zM33 27h2v1h-2zM58 27h1v1h-1zM71 27h1v1h-1zM77 27h5v1h-5zM93 27h1v1h-1zM95 27h1v1h-1zM97 27h2v1h-2zM19 30h1v1h-1zM64 30h1v1h-1zM37 33h1v1h-1zM88 33h1v1h-1zM36 34h1v1h-1zM101 34h1v1h-1zM106 34h1v1h-1zM36 35h1v1h-1zM101 35h1v1h-1zM106 35h1v1h-1zM34 36h1v1h-1zM101 36h1v1h-1zM20 40h1v1h-1zM36 40h1v1h-1zM63 40h1v1h-1zM105 40h1v1h-1zM4 41h2v1h-2zM9 41h3v1h-3zM15 41h2v1h-2zM33 41h1v1h-1zM38 41h9v1h-9zM84 41h1v1h-1zM33 42h2v1h-2zM36 42h1v1h-1zM63 43h1v1h-1zM0 44h1v1h-1zM34 44h1v1h-1zM62 44h1v1h-1zM86 44h1v1h-1zM0 45h1v1h-1zM20 45h1v1h-1zM34 45h1v1h-1zM36 45h1v1h-1zM63 45h1v1h-1zM86 45h2v1h-2zM0 46h1v1h-1zM20 46h1v1h-1zM34 46h1v1h-1zM36 46h1v1h-1zM63 46h1v1h-1zM86 46h2v1h-2zM52 48h1v1h-1zM58 48h1v1h-1zM88 48h1v1h-1zM94 48h1v1h-1zM4 49h2v1h-2zM9 49h2v1h-2zM12 49h1v1h-1zM15 49h2v1h-2zM33 49h3v1h-3zM39 49h8v1h-8zM56 49h1v1h-1zM59 49h3v1h-3zM73 49h2v1h-2zM76 49h6v1h-6zM83 49h1v1h-1zM85 49h1v1h-1zM91 49h2v1h-2zM98 49h3v1h-3zM38 50h1v1h-1zM52 50h1v1h-1zM88 50h1v1h-1zM94 50h1v1h-1zM88 52h1v1h-1zM98 52h1v1h-1zM11 55h1v1h-1zM15 55h1v1h-1zM17 55h1v1h-1zM46 55h1v1h-1zM68 55h3v1h-3zM23 56h1v1h-1zM54 56h1v1h-1zM73 56h1v1h-1zM58 58h1v1h-1zM85 58h1v1h-1zM91 58h1v1h-1zM23 59h1v1h-1zM47 59h1v1h-1zM54 59h1v1h-1zM61 59h2v1h-2zM105 59h1v1h-1zM49 60h1v1h-1zM61 60h2v1h-2zM73 60h1v1h-1zM48 61h1v1h-1zM91 61h1v1h-1zM93 61h4v1h-4zM99 61h2v1h-2zM48 62h1v1h-1zM91 62h1v1h-1zM93 62h4v1h-4zM99 62h2v1h-2zM0 63h1v1h-1zM19 63h1v1h-1zM64 63h1v1h-1zM9 64h1v1h-1zM17 64h1v1h-1zM37 64h1v1h-1zM52 64h1v1h-1zM34 66h1v1h-1zM20 67h1v1h-1zM23 67h1v1h-1zM29 67h1v1h-1zM33 67h1v1h-1zM37 67h9v1h-9zM65 67h1v1h-1zM86 67h1v1h-1zM105 67h1v1h-1zM0 68h1v1h-1zM3 68h1v1h-1zM14 68h1v1h-1zM34 68h1v1h-1zM64 68h1v1h-1zM101 68h1v1h-1zM0 69h1v1h-1zM19 69h1v1h-1zM29 69h1v1h-1zM33 69h1v1h-1zM104 69h1v1h-1zM0 70h1v1h-1zM3 70h1v1h-1zM14 70h1v1h-1zM19 70h1v1h-1zM29 70h1v1h-1zM33 70h1v1h-1zM64 70h1v1h-1zM20 71h1v1h-1zM52 71h1v1h-1zM72 71h1v1h-1zM0 72h1v1h-1zM34 72h1v1h-1zM36 72h1v1h-1zM101 78h1v1h-1zM49 90h1v1h-1zM54 90h1v1h-1zM58 90h1v1h-1zM65 90h1v1h-1zM73 90h1v1h-1zM99 90h1v1h-1zM106 90h1v1h-1z"/>
<path fill="#dcdcdc" d="M12 47h1v1h-1zM29 47h1v1h-1zM33 47h1v1h-1zM35 47h1v1h-1zM37 47h9v1h-9zM47 47h1v1h-1zM49 47h1v1h-1zM71 47h1v1h-1zM88 47h1v1h-1zM105 47h2v1h-2z"/>
<path fill="#dddddd" d="M38 4h8v1h-8zM56 18h2v1h-2zM61 18h2v1h-2zM4 27h2v1h-2zM99 27h1v1h-1zM14 30h1v1h-1zM34 34h1v1h-1zM34 35h1v1h-1z"/>
<path fill="#dedede" d="M73 18h1v1h-1zM99 18h1v1h-1zM12 27h1v1h-1zM29 27h1v1h-1zM74 27h1v1h-1zM83 27h1v1h-1zM25 30h1v1h-1zM32 34h1v1h-1zM32 35h1v1h-1zM32 36h1v1h-1zM25 40h1v1h-1zM64 40h1v1h-1zM12 41h1v1h-1zM34 41h2v1h-2zM37 41h1v1h-1zM52 41h1v1h-1zM58 41h1v1h-1zM93 41h3v1h-3zM100 41h1v1h-1zM48 42h1v1h-1zM64 43h1v1h-1zM20 44h1v1h-1zM47 44h1v1h-1zM87 44h1v1h-1zM105 44h2v1h-2zM64 45h1v1h-1zM64 46h1v1h-1zM11 48h1v1h-1zM33 48h3v1h-3zM38 48h1v1h-1zM71 48h1v1h-1zM93 48h1v1h-1zM95 48h1v1h-1zM100 48h1v1h-1zM37 49h1v1h-1zM57 49h1v1h-1zM62 49h1v1h-1zM65 49h2v1h-2zM33 50h3v1h-3zM71 50h1v1h-1zM93 50h1v1h-1zM95 50h1v1h-1zM100 50h1v1h-1zM86 52h1v1h-1zM10 55h1v1h-1zM88 55h1v1h-1zM98 55h1v1h-1zM49 56h1v1h-1zM63 56h1v1h-1zM48 58h1v1h-1zM93 58h5v1h-5zM99 58h1v1h-1zM49 59h1v1h-1zM63 59h1v1h-1zM73 59h1v1h-1zM56 60h1v1h-1zM63 60h1v1h-1zM5 61h1v1h-1zM67 61h1v1h-1zM71 61h1v1h-1zM74 61h12v1h-12zM97 61h1v1h-1zM5 62h1v1h-1zM67 62h1v1h-1zM71 62h1v1h-1zM74 62h12v1h-12zM97 62h1v1h-1zM3 63h1v1h-1zM14 63h1v1h-1zM88 64h1v1h-1zM32 66h1v1h-1zM64 66h1v1h-1zM101 66h1v1h-1zM0 67h1v1h-1zM19 67h1v1h-1zM47 67h1v1h-1zM106 67h1v1h-1zM32 68h1v1h-1zM48 68h1v1h-1zM3 69h1v1h-1zM14 69h1v1h-1zM34 69h1v1h-1zM48 69h1v1h-1zM34 70h1v1h-1zM104 70h1v1h-1zM37 71h1v1h-1zM102 71h1v1h-1zM19 72h1v1h-1zM48 72h1v1h-1zM101 79h1v1h-1zM101 80h1v1h-1zM23 90h1v1h-1zM47 90h1v1h-1zM57 90h1v1h-1zM59 90h4v1h-4zM85 90h1v1h-1zM87 90h1v1h-1zM91 90h5v1h-5z"/>
<path fill="#dfdfdf" d="M0 47h1v1h-1zM20 47h1v1h-1zM34 47h1v1h-1zM36 47h1v1h-1zM63 47h1v1h-1zM86 47h2v1h-2z"/>
<path fill="#e0e0e0" d="M14 1h1v1h-1zM64 1h1v1h-1zM104 1h1v1h-1zM25 2h1v1h-1zM32 2h1v1h-1zM34 2h1v1h-1zM64 2h1v1h-1zM104 2h1v1h-1zM9 4h1v1h-1zM12 4h1v1h-1zM19 4h2v1h-2zM29 4h1v1h-1zM32 4h1v1h-1zM34 4h3v1h-3zM0 7h1v1h-1zM12 7h1v1h-1zM14 7h1v1h-1zM19 7h1v1h-1zM29 7h1v1h-1zM33 7h4v1h-4zM102 7h1v1h-1zM28 9h1v1h-1zM19 10h1v1h-1zM19 11h1v1h-1zM24 13h1v1h-1zM17 18h1v1h-1zM54 18h1v1h-1zM58 18h2v1h-2zM65 18h2v1h-2zM71 18h1v1h-1zM106 18h1v1h-1zM16 27h1v1h-1zM36 27h2v1h-2zM56 27h2v1h-2zM59 27h1v1h-1zM72 27h1v1h-1zM86 27h1v1h-1zM92 27h1v1h-1zM3 30h1v1h-1zM19 33h1v1h-1zM86 33h1v1h-1zM64 36h1v1h-1zM0 41h1v1h-1zM17 41h1v1h-1zM21 41h1v1h-1zM71 41h1v1h-1zM78 41h4v1h-4zM104 42h1v1h-1zM19 43h1v1h-1zM25 43h1v1h-1zM63 44h1v1h-1zM85 48h1v1h-1zM86 49h1v1h-1zM11 50h1v1h-1zM39 50h8v1h-8zM85 50h1v1h-1zM9 52h3v1h-3zM20 52h1v1h-1zM9 55h1v1h-1zM5 58h1v1h-1zM67 58h3v1h-3zM71 58h2v1h-2zM74 58h11v1h-11zM21 61h1v1h-1zM21 62h1v1h-1zM20 64h1v1h-1zM34 67h1v1h-1zM48 70h1v1h-1zM35 71h1v1h-1z"/>
<path fill="#e2e2e2" d="M17 27h1v1h-1zM60 27h3v1h-3zM65 27h2v1h-2zM35 33h1v1h-1zM39 33h2v1h-2zM25 34h1v1h-1zM25 35h1v1h-1zM25 36h1v1h-1zM60 41h3v1h-3zM65 41h1v1h-1zM73 41h2v1h-2zM76 41h2v1h-2zM83 41h1v1h-1zM85 41h1v1h-1zM88 41h1v1h-1zM91 41h2v1h-2zM98 41h2v1h-2zM19 42h1v1h-1zM25 44h1v1h-1zM64 44h1v1h-1zM19 45h1v1h-1zM19 46h1v1h-1zM64 47h1v1h-1zM9 48h2v1h-2zM12 48h1v1h-1zM39 48h8v1h-8zM56 48h1v1h-1zM59 48h4v1h-4zM65 48h2v1h-2zM73 48h2v1h-2zM76 48h6v1h-6zM83 48h1v1h-1zM91 48h2v1h-2zM98 48h2v1h-2zM0 49h1v1h-1zM17 49h1v1h-1zM21 49h1v1h-1zM49 49h1v1h-1zM54 49h1v1h-1zM106 49h1v1h-1zM9 50h2v1h-2zM56 50h1v1h-1zM59 50h4v1h-4zM65 50h2v1h-2zM73 50h2v1h-2zM76 50h6v1h-6zM83 50h1v1h-1zM91 50h2v1h-2zM98 50h2v1h-2zM52 52h1v1h-1zM59 53h1v1h-1zM62 53h1v1h-1zM65 53h1v1h-1zM87 53h1v1h-1zM37 55h1v1h-1zM86 55h1v1h-1zM102 55h1v1h-1zM31 56h1v1h-1zM56 56h1v1h-1zM64 56h1v1h-1zM66 56h1v1h-1zM21 58h1v1h-1zM30 58h1v1h-1zM89 58h2v1h-2zM100 58h1v1h-1zM56 59h2v1h-2zM64 59h1v1h-1zM66 59h1v1h-1zM57 60h1v1h-1zM64 60h1v1h-1zM92 60h1v1h-1zM99 60h1v1h-1zM4 61h1v1h-1zM15 61h2v1h-2zM46 61h1v1h-1zM68 61h3v1h-3zM72 61h1v1h-1zM89 61h2v1h-2zM98 61h1v1h-1zM4 62h1v1h-1zM15 62h2v1h-2zM46 62h1v1h-1zM68 62h3v1h-3zM72 62h1v1h-1zM89 62h2v1h-2zM98 62h1v1h-1zM32 63h1v1h-1zM48 63h1v1h-1zM101 63h1v1h-1zM38 64h8v1h-8zM55 64h1v1h-1zM86 64h1v1h-1zM25 66h1v1h-1zM3 67h1v1h-1zM14 67h1v1h-1zM32 67h1v1h-1zM36 67h1v1h-1zM87 67h1v1h-1zM101 67h1v1h-1zM25 68h1v1h-1zM32 69h1v1h-1zM32 70h1v1h-1zM101 70h1v1h-1zM19 71h1v1h-1zM55 71h1v1h-1zM86 71h1v1h-1zM88 71h1v1h-1zM14 72h1v1h-1zM104 82h1v1h-1zM56 90h1v1h-1zM100 90h1v1h-1zM104 90h1v1h-1z"/>
<path fill="#e3e3e3" d="M86 4h1v1h-1zM88 4h1v1h-1zM34 17h1v1h-1zM77 18h1v1h-1zM70 23h1v1h-1zM9 27h1v1h-1zM25 27h1v1h-1zM47 27h1v1h-1zM54 27h1v1h-1zM91 27h1v1h-1zM48 30h1v1h-1zM101 30h1v1h-1zM104 30h1v1h-1zM12 33h1v1h-1zM14 33h1v1h-1zM29 33h1v1h-1zM33 33h2v1h-2zM64 34h1v1h-1zM64 35h1v1h-1zM14 40h1v1h-1zM19 40h1v1h-1zM32 40h1v1h-1zM25 41h1v1h-1zM36 41h1v1h-1zM3 42h1v1h-1zM32 42h1v1h-1zM14 43h1v1h-1zM32 43h1v1h-1zM25 45h1v1h-1zM25 46h1v1h-1zM23 49h1v1h-1zM63 49h1v1h-1zM87 49h1v1h-1zM12 50h1v1h-1zM37 50h1v1h-1zM4 58h1v1h-1zM70 58h1v1h-1zM66 60h1v1h-1zM17 61h1v1h-1zM17 62h1v1h-1zM12 71h1v1h-1zM14 71h1v1h-1zM33 71h2v1h-2zM38 71h8v1h-8z"/>
<path fill="#e5e5e5" d="M94 3h1v1h-1zM102 4h1v1h-1zM25 17h1v1h-1zM14 18h1v1h-1zM20 18h1v1h-1zM23 18h1v1h-1zM55 23h1v1h-1zM94 23h1v1h-1zM0 27h1v1h-1zM87 27h1v1h-1zM106 27h1v1h-1zM102 30h1v1h-1zM0 33h1v1h-1zM41 33h5v1h-5zM48 40h1v1h-1zM23 41h1v1h-1zM47 41h1v1h-1zM49 41h1v1h-1zM54 41h1v1h-1zM59 41h1v1h-1zM66 41h1v1h-1zM86 41h1v1h-1zM14 42h1v1h-1zM25 42h1v1h-1zM102 42h1v1h-1zM3 43h1v1h-1zM19 44h1v1h-1zM14 45h1v1h-1zM14 46h1v1h-1zM19 47h1v1h-1zM0 48h1v1h-1zM4 48h2v1h-2zM15 48h2v1h-2zM21 48h1v1h-1zM25 48h1v1h-1zM37 48h1v1h-1zM57 48h1v1h-1zM86 48h1v1h-1zM106 48h1v1h-1zM20 49h1v1h-1zM25 49h1v1h-1zM47 49h1v1h-1zM105 49h1v1h-1zM0 50h1v1h-1zM4 50h2v1h-2zM15 50h2v1h-2zM25 50h1v1h-1zM57 50h1v1h-1zM86 50h1v1h-1zM106 50h1v1h-1zM105 51h2v1h-2zM12 52h1v1h-1zM19 52h1v1h-1zM37 52h1v1h-1zM60 53h1v1h-1zM19 55h2v1h-2zM52 55h1v1h-1zM55 55h1v1h-1zM48 56h1v1h-1zM57 56h1v1h-1zM77 56h1v1h-1zM92 56h2v1h-2zM95 56h1v1h-1zM15 58h3v1h-3zM37 58h1v1h-1zM88 58h1v1h-1zM98 58h1v1h-1zM85 59h1v1h-1zM92 59h1v1h-1zM94 59h1v1h-1zM99 59h1v1h-1zM31 60h1v1h-1zM48 60h1v1h-1zM58 60h1v1h-1zM71 60h1v1h-1zM91 60h1v1h-1zM93 60h4v1h-4zM100 60h1v1h-1zM10 61h2v1h-2zM37 61h1v1h-1zM88 61h1v1h-1zM102 61h1v1h-1zM10 62h2v1h-2zM37 62h1v1h-1zM88 62h1v1h-1zM102 62h1v1h-1zM25 63h1v1h-1zM102 63h1v1h-1zM104 63h1v1h-1zM12 64h1v1h-1zM14 64h1v1h-1zM19 64h1v1h-1zM35 64h1v1h-1zM102 64h1v1h-1zM48 66h1v1h-1zM25 67h1v1h-1zM63 67h1v1h-1zM0 71h1v1h-1zM29 71h1v1h-1zM3 72h1v1h-1zM32 72h1v1h-1zM102 72h1v1h-1zM16 90h1v1h-1zM31 90h1v1h-1zM66 90h1v1h-1zM75 90h8v1h-8zM84 90h1v1h-1z"/>
<path fill="#e6e6e6" d="M25 47h1v1h-1z"/>
<path fill="#e8e8e8" d="M3 1h1v1h-1zM19 1h1v1h-1zM48 1h1v1h-1zM48 2h1v1h-1zM72 3h1v1h-1zM89 3h2v1h-2zM93 3h1v1h-1zM95 3h1v1h-1zM97 3h1v1h-1zM0 4h1v1h-1zM3 4h1v1h-1zM14 4h1v1h-1zM3 7h1v1h-1zM32 7h1v1h-1zM76 8h1v1h-1zM3 9h1v1h-1zM19 9h1v1h-1zM20 10h1v1h-1zM20 11h1v1h-1zM12 17h1v1h-1zM29 17h1v1h-1zM35 17h1v1h-1zM38 17h2v1h-2zM70 17h1v1h-1zM47 18h1v1h-1zM60 18h1v1h-1zM63 18h1v1h-1zM92 18h1v1h-1zM101 18h1v1h-1zM105 18h1v1h-1zM25 23h1v1h-1zM67 23h2v1h-2zM71 23h1v1h-1zM79 23h1v1h-1zM95 23h2v1h-2zM23 27h1v1h-1zM49 27h1v1h-1zM63 27h1v1h-1zM105 27h1v1h-1zM3 33h1v1h-1zM32 33h1v1h-1zM36 33h1v1h-1zM38 33h1v1h-1zM48 34h1v1h-1zM104 34h1v1h-1zM48 35h1v1h-1zM104 35h1v1h-1zM48 36h1v1h-1zM104 36h1v1h-1zM3 40h1v1h-1zM101 40h1v1h-1zM104 40h1v1h-1zM20 41h1v1h-1zM56 41h2v1h-2zM63 41h1v1h-1zM87 41h1v1h-1zM106 41h1v1h-1zM48 43h1v1h-1zM101 43h1v1h-1zM104 43h1v1h-1zM14 44h1v1h-1zM32 44h1v1h-1zM3 45h1v1h-1zM32 45h1v1h-1zM48 45h1v1h-1zM3 46h1v1h-1zM32 46h1v1h-1zM48 46h1v1h-1zM14 47h1v1h-1zM17 48h1v1h-1zM20 48h1v1h-1zM23 48h1v1h-1zM49 48h1v1h-1zM54 48h1v1h-1zM63 48h1v1h-1zM87 48h1v1h-1zM105 48h1v1h-1zM19 49h1v1h-1zM36 49h1v1h-1zM64 49h1v1h-1zM17 50h1v1h-1zM21 50h1v1h-1zM49 50h1v1h-1zM63 50h1v1h-1zM87 50h1v1h-1zM105 50h1v1h-1zM0 52h1v1h-1zM14 52h1v1h-1zM29 52h1v1h-1zM38 52h8v1h-8zM102 52h1v1h-1zM23 53h1v1h-1zM61 53h1v1h-1zM73 53h1v1h-1zM92 53h2v1h-2zM106 53h1v1h-1zM0 55h1v1h-1zM12 55h1v1h-1zM14 55h1v1h-1zM35 55h1v1h-1zM38 55h8v1h-8zM30 56h1v1h-1zM67 56h3v1h-3zM71 56h1v1h-1zM74 56h2v1h-2zM78 56h8v1h-8zM89 56h3v1h-3zM94 56h1v1h-1zM96 56h2v1h-2zM99 56h2v1h-2zM9 58h3v1h-3zM46 58h1v1h-1zM86 58h1v1h-1zM21 59h1v1h-1zM31 59h1v1h-1zM48 59h1v1h-1zM58 59h1v1h-1zM67 59h3v1h-3zM71 59h1v1h-1zM79 59h1v1h-1zM82 59h3v1h-3zM91 59h1v1h-1zM93 59h1v1h-1zM95 59h3v1h-3zM100 59h1v1h-1zM5 60h1v1h-1zM21 60h1v1h-1zM67 60h4v1h-4zM74 60h12v1h-12zM97 60h1v1h-1zM9 61h1v1h-1zM19 61h2v1h-2zM40 61h1v1h-1zM52 61h1v1h-1zM86 61h1v1h-1zM9 62h1v1h-1zM19 62h2v1h-2zM40 62h1v1h-1zM52 62h1v1h-1zM86 62h1v1h-1zM0 64h1v1h-1zM3 64h1v1h-1zM29 64h1v1h-1zM33 64h2v1h-2zM36 64h1v1h-1zM104 66h1v1h-1zM64 67h1v1h-1zM104 68h1v1h-1zM25 69h1v1h-1zM101 69h2v1h-2zM25 70h1v1h-1zM3 71h1v1h-1zM32 71h1v1h-1zM36 71h1v1h-1zM25 72h1v1h-1zM101 72h1v1h-1zM4 90h1v1h-1zM21 90h1v1h-1zM30 90h1v1h-1zM46 90h1v1h-1zM48 90h1v1h-1zM68 90h2v1h-2zM72 90h1v1h-1zM88 90h3v1h-3zM97 90h2v1h-2z"/>
<path fill="#eaeaea" d="M32 47h1v1h-1zM48 47h1v1h-1z"/>
<path fill="#ebebeb" d="M21 3h1v1h-1zM81 3h1v1h-1zM83 3h2v1h-2zM92 3h1v1h-1zM101 7h1v1h-1zM58 8h1v1h-1zM105 8h1v1h-1zM88 14h1v1h-1zM32 17h1v1h-1zM40 17h1v1h-1zM82 17h1v1h-1zM19 18h1v1h-1zM64 18h1v1h-1zM88 18h1v1h-1zM70 21h1v1h-1zM10 23h1v1h-1zM12 23h1v1h-1zM34 23h2v1h-2zM38 23h1v1h-1zM40 23h1v1h-1zM42 23h1v1h-1zM46 23h1v1h-1zM66 23h1v1h-1zM69 23h1v1h-1zM72 23h1v1h-1zM76 23h1v1h-1zM78 23h1v1h-1zM81 23h2v1h-2zM84 23h2v1h-2zM88 23h4v1h-4zM93 23h1v1h-1zM19 27h1v1h-1zM64 27h1v1h-1zM103 38h1v1h-1zM102 40h1v1h-1zM64 41h1v1h-1zM105 41h1v1h-1zM102 43h1v1h-1zM3 44h1v1h-1zM48 44h1v1h-1zM102 45h1v1h-1zM104 45h1v1h-1zM102 46h1v1h-1zM104 46h1v1h-1zM19 48h1v1h-1zM47 48h1v1h-1zM64 48h1v1h-1zM19 50h2v1h-2zM23 50h1v1h-1zM47 50h1v1h-1zM54 50h1v1h-1zM64 50h1v1h-1zM47 51h1v1h-1zM54 51h1v1h-1zM87 51h1v1h-1zM3 52h1v1h-1zM35 52h2v1h-2zM31 53h1v1h-1zM47 53h1v1h-1zM54 53h1v1h-1zM56 53h1v1h-1zM79 53h1v1h-1zM94 53h2v1h-2zM3 55h1v1h-1zM29 55h1v1h-1zM33 55h2v1h-2zM11 56h1v1h-1zM21 56h1v1h-1zM70 56h1v1h-1zM72 56h1v1h-1zM88 56h1v1h-1zM98 56h1v1h-1zM34 58h1v1h-1zM40 58h1v1h-1zM52 58h1v1h-1zM55 58h1v1h-1zM102 58h1v1h-1zM5 59h1v1h-1zM70 59h1v1h-1zM72 59h1v1h-1zM74 59h2v1h-2zM77 59h2v1h-2zM81 59h1v1h-1zM4 60h1v1h-1zM30 60h1v1h-1zM46 60h1v1h-1zM72 60h1v1h-1zM89 60h2v1h-2zM98 60h1v1h-1zM14 61h1v1h-1zM34 61h1v1h-1zM39 61h1v1h-1zM41 61h1v1h-1zM44 61h1v1h-1zM55 61h1v1h-1zM14 62h1v1h-1zM34 62h1v1h-1zM39 62h1v1h-1zM41 62h1v1h-1zM44 62h1v1h-1zM55 62h1v1h-1zM32 64h1v1h-1zM104 67h1v1h-1zM102 70h1v1h-1zM54 82h1v1h-1zM5 90h1v1h-1zM10 90h1v1h-1zM17 90h1v1h-1zM40 90h1v1h-1zM64 90h1v1h-1zM74 90h1v1h-1z"/>
<path fill="#ededed" d="M102 47h1v1h-1zM104 47h1v1h-1z"/>
<path fill="#eeeeee" d="M93 8h5v1h-5zM20 27h1v1h-1zM33 52h1v1h-1zM57 53h1v1h-1zM63 53h1v1h-1zM74 53h1v1h-1zM32 55h1v1h-1zM36 55h1v1h-1zM15 56h3v1h-3zM37 56h1v1h-1zM58 56h1v1h-1zM14 58h1v1h-1zM19 58h2v1h-2zM41 58h1v1h-1zM4 59h1v1h-1zM17 59h1v1h-1zM37 59h1v1h-1zM46 59h1v1h-1zM98 59h1v1h-1zM15 60h3v1h-3zM55 60h1v1h-1zM38 61h1v1h-1zM43 61h1v1h-1zM45 61h1v1h-1zM38 62h1v1h-1zM43 62h1v1h-1zM45 62h1v1h-1zM54 65h1v1h-1zM88 65h1v1h-1zM48 67h1v1h-1zM59 82h2v1h-2zM15 90h1v1h-1zM67 90h1v1h-1zM70 90h2v1h-2z"/>
<path fill="#efefef" d="M102 1h1v1h-1zM102 2h1v1h-1zM4 3h2v1h-2zM10 3h2v1h-2zM29 3h1v1h-1zM35 3h1v1h-1zM38 3h1v1h-1zM56 3h3v1h-3zM71 3h1v1h-1zM74 3h1v1h-1zM79 3h1v1h-1zM82 3h1v1h-1zM85 3h1v1h-1zM96 3h1v1h-1zM25 7h1v1h-1zM10 8h1v1h-1zM35 8h1v1h-1zM46 8h2v1h-2zM56 8h1v1h-1zM73 8h2v1h-2zM79 8h1v1h-1zM48 9h1v1h-1zM48 10h1v1h-1zM48 11h1v1h-1zM10 17h1v1h-1zM36 17h1v1h-1zM41 17h1v1h-1zM44 17h2v1h-2zM55 17h1v1h-1zM98 17h1v1h-1zM49 18h1v1h-1zM82 21h1v1h-1zM84 21h1v1h-1zM94 21h1v1h-1zM96 21h1v1h-1zM4 23h1v1h-1zM9 23h1v1h-1zM11 23h1v1h-1zM15 23h2v1h-2zM21 23h1v1h-1zM30 23h1v1h-1zM39 23h1v1h-1zM41 23h1v1h-1zM43 23h1v1h-1zM52 23h1v1h-1zM56 23h1v1h-1zM74 23h2v1h-2zM86 23h1v1h-1zM97 23h1v1h-1zM14 27h1v1h-1zM25 33h1v1h-1zM102 36h1v1h-1zM102 38h1v1h-1zM18 39h1v1h-1zM14 41h1v1h-1zM19 41h1v1h-1zM32 41h1v1h-1zM101 42h1v1h-1zM101 44h2v1h-2zM104 44h1v1h-1zM101 45h1v1h-1zM101 46h1v1h-1zM3 47h1v1h-1zM32 48h1v1h-1zM36 48h1v1h-1zM32 49h1v1h-1zM36 50h1v1h-1zM16 53h2v1h-2zM66 53h1v1h-1zM78 53h1v1h-1zM84 53h1v1h-1zM89 53h2v1h-2zM104 53h1v1h-1zM4 56h1v1h-1zM10 56h1v1h-1zM46 56h1v1h-1zM52 56h1v1h-1zM55 56h1v1h-1zM76 56h1v1h-1zM0 58h1v1h-1zM15 59h2v1h-2zM30 59h1v1h-1zM76 59h1v1h-1zM80 59h1v1h-1zM89 59h2v1h-2zM9 60h3v1h-3zM37 60h1v1h-1zM86 60h1v1h-1zM102 60h1v1h-1zM0 61h1v1h-1zM3 61h1v1h-1zM12 61h1v1h-1zM32 61h1v1h-1zM35 61h2v1h-2zM42 61h1v1h-1zM0 62h1v1h-1zM3 62h1v1h-1zM12 62h1v1h-1zM32 62h1v1h-1zM35 62h2v1h-2zM42 62h1v1h-1zM47 65h1v1h-1zM55 65h1v1h-1zM66 65h1v1h-1zM102 66h1v1h-1zM102 68h1v1h-1zM18 73h1v1h-1zM104 81h1v1h-1zM0 90h1v1h-1zM96 90h1v1h-1z"/>
<path fill="#f0f0f0" d="M83 51h1v1h-1zM64 53h1v1h-1zM76 53h1v1h-1zM9 56h1v1h-1zM86 56h1v1h-1zM38 58h2v1h-2zM43 58h1v1h-1zM9 59h3v1h-3zM55 59h1v1h-1zM86 59h1v1h-1zM28 76h1v1h-1zM28 77h1v1h-1zM19 90h1v1h-1z"/>
<path fill="#f1f1f1" d="M101 47h1v1h-1z"/>
<path fill="#f2f2f2" d="M80 3h1v1h-1zM80 8h7v1h-7zM99 8h2v1h-2zM11 17h1v1h-1zM33 17h1v1h-1zM55 21h1v1h-1zM29 22h1v1h-1zM45 23h1v1h-1zM83 23h1v1h-1zM32 27h1v1h-1zM101 27h1v1h-1zM14 49h1v1h-1zM32 50h1v1h-1zM5 56h1v1h-1zM11 90h1v1h-1z"/>
<path fill="#f3f3f3" d="M15 3h2v1h-2zM39 3h1v1h-1zM52 3h1v1h-1zM59 3h1v1h-1zM65 3h6v1h-6zM73 3h1v1h-1zM105 3h1v1h-1zM55 8h1v1h-1zM57 8h1v1h-1zM65 8h1v1h-1zM71 8h1v1h-1zM75 8h1v1h-1zM67 17h2v1h-2zM71 17h1v1h-1zM79 17h1v1h-1zM83 17h1v1h-1zM86 17h1v1h-1zM94 17h2v1h-2zM3 18h1v1h-1zM38 21h2v1h-2zM67 21h2v1h-2zM83 21h1v1h-1zM88 21h1v1h-1zM17 23h1v1h-1zM31 23h1v1h-1zM33 23h1v1h-1zM36 23h2v1h-2zM44 23h1v1h-1zM57 23h1v1h-1zM92 23h1v1h-1zM98 23h1v1h-1zM102 34h1v1h-1zM102 35h1v1h-1zM48 41h1v1h-1zM48 49h1v1h-1zM23 51h1v1h-1zM49 51h1v1h-1zM59 51h2v1h-2zM65 51h1v1h-1zM34 52h1v1h-1zM52 53h1v1h-1zM68 53h1v1h-1zM80 53h1v1h-1zM87 54h1v1h-1zM40 56h1v1h-1zM102 56h1v1h-1zM3 58h1v1h-1zM32 58h1v1h-1zM42 58h1v1h-1zM44 58h2v1h-2zM34 59h1v1h-1zM40 59h1v1h-1zM40 60h1v1h-1zM52 60h1v1h-1zM29 61h1v1h-1zM33 61h1v1h-1zM29 62h1v1h-1zM33 62h1v1h-1zM49 65h1v1h-1zM57 65h3v1h-3zM65 65h1v1h-1zM92 65h1v1h-1zM102 67h1v1h-1zM25 71h1v1h-1zM73 82h1v1h-1zM9 90h1v1h-1zM52 90h1v1h-1z"/>
<path fill="#f6f6f6" d="M9 3h1v1h-1zM12 3h1v1h-1zM17 3h1v1h-1zM20 3h1v1h-1zM23 3h1v1h-1zM25 3h1v1h-1zM30 3h2v1h-2zM33 3h2v1h-2zM40 3h6v1h-6zM55 3h1v1h-1zM61 3h4v1h-4zM75 3h2v1h-2zM78 3h1v1h-1zM99 3h2v1h-2zM25 4h1v1h-1zM101 4h1v1h-1zM38 6h1v1h-1zM98 6h1v1h-1zM4 8h2v1h-2zM9 8h1v1h-1zM11 8h1v1h-1zM15 8h3v1h-3zM21 8h1v1h-1zM23 8h1v1h-1zM49 8h1v1h-1zM61 8h1v1h-1zM66 8h5v1h-5zM89 8h2v1h-2zM92 8h1v1h-1zM98 8h1v1h-1zM9 17h1v1h-1zM37 17h1v1h-1zM43 17h1v1h-1zM69 17h1v1h-1zM78 17h1v1h-1zM81 17h1v1h-1zM84 17h1v1h-1zM89 17h1v1h-1zM96 17h2v1h-2zM101 17h1v1h-1zM48 18h1v1h-1zM30 21h1v1h-1zM42 21h1v1h-1zM52 21h1v1h-1zM56 21h1v1h-1zM69 21h1v1h-1zM86 21h1v1h-1zM92 21h1v1h-1zM101 22h1v1h-1zM5 23h1v1h-1zM29 23h1v1h-1zM32 23h1v1h-1zM58 23h1v1h-1zM77 23h1v1h-1zM80 23h1v1h-1zM99 23h1v1h-1zM3 27h1v1h-1zM102 27h1v1h-1zM101 33h1v1h-1zM3 41h1v1h-1zM14 48h1v1h-1zM3 49h1v1h-1zM58 51h1v1h-1zM61 51h2v1h-2zM73 51h1v1h-1zM77 51h1v1h-1zM85 51h1v1h-1zM32 52h1v1h-1zM5 53h1v1h-1zM30 53h1v1h-1zM49 53h1v1h-1zM58 53h1v1h-1zM67 53h1v1h-1zM69 53h1v1h-1zM81 53h3v1h-3zM91 53h1v1h-1zM99 53h1v1h-1zM59 54h1v1h-1zM65 54h1v1h-1zM12 58h1v1h-1zM29 58h1v1h-1zM35 58h1v1h-1zM20 59h1v1h-1zM52 59h1v1h-1zM19 60h1v1h-1zM34 60h1v1h-1zM39 60h1v1h-1zM44 60h1v1h-1zM101 64h1v1h-1zM21 65h1v1h-1zM23 65h1v1h-1zM46 65h1v1h-1zM61 65h2v1h-2zM69 65h1v1h-1zM72 65h1v1h-1zM74 65h1v1h-1zM79 65h2v1h-2zM87 65h1v1h-1zM89 65h2v1h-2zM96 65h1v1h-1zM106 65h1v1h-1zM101 71h1v1h-1zM49 82h1v1h-1zM12 90h1v1h-1zM20 90h1v1h-1zM29 90h1v1h-1zM37 90h1v1h-1z"/>
<path fill="#f7f7f7" d="M74 17h1v1h-1zM42 22h1v1h-1z"/>
<path fill="#f8f8f8" d="M37 3h1v1h-1zM46 3h2v1h-2zM87 3h1v1h-1zM103 4h1v1h-1zM103 7h1v1h-1zM72 8h1v1h-1zM17 11h1v1h-1zM34 14h1v1h-1zM83 14h1v1h-1zM16 17h1v1h-1zM42 17h1v1h-1zM56 17h1v1h-1zM76 17h1v1h-1zM90 17h1v1h-1zM9 21h2v1h-2zM33 21h1v1h-1zM40 21h2v1h-2zM43 21h1v1h-1zM71 21h1v1h-1zM78 21h1v1h-1zM85 21h1v1h-1zM89 21h1v1h-1zM95 21h1v1h-1zM97 21h1v1h-1zM101 21h1v1h-1zM10 22h1v1h-1zM12 22h1v1h-1zM38 22h1v1h-1zM70 22h1v1h-1zM100 23h1v1h-1zM104 27h1v1h-1zM103 33h1v1h-1zM101 41h1v1h-1zM104 41h1v1h-1zM3 48h1v1h-1zM48 48h1v1h-1zM14 50h1v1h-1zM31 51h1v1h-1zM66 51h1v1h-1zM84 51h1v1h-1zM89 51h2v1h-2zM92 51h1v1h-1zM101 52h1v1h-1zM4 53h1v1h-1zM21 53h1v1h-1zM48 53h1v1h-1zM70 53h2v1h-2zM85 53h1v1h-1zM62 54h1v1h-1zM106 54h1v1h-1zM25 55h1v1h-1zM0 56h1v1h-1zM12 56h1v1h-1zM14 56h1v1h-1zM34 56h1v1h-1zM41 56h1v1h-1zM7 58h1v1h-1zM36 58h1v1h-1zM12 59h1v1h-1zM14 59h1v1h-1zM19 59h1v1h-1zM39 59h1v1h-1zM44 59h1v1h-1zM102 59h1v1h-1zM12 60h1v1h-1zM14 60h1v1h-1zM20 60h1v1h-1zM41 60h1v1h-1zM43 60h1v1h-1zM45 60h1v1h-1zM7 61h1v1h-1zM7 62h1v1h-1zM25 64h1v1h-1zM10 65h1v1h-1zM60 65h1v1h-1zM63 65h1v1h-1zM71 65h1v1h-1zM75 65h2v1h-2zM81 65h2v1h-2zM85 65h1v1h-1zM91 65h1v1h-1zM99 65h2v1h-2zM104 65h1v1h-1zM29 76h1v1h-1zM29 77h1v1h-1zM29 80h1v1h-1zM57 82h1v1h-1zM61 82h1v1h-1zM85 82h1v1h-1zM3 90h1v1h-1zM38 90h2v1h-2zM45 90h1v1h-1zM55 90h1v1h-1z"/>
<path fill="#f9f9f9" d="M37 8h9v1h-9zM94 14h1v1h-1zM46 17h1v1h-1zM52 17h1v1h-1zM72 17h1v1h-1zM93 17h1v1h-1zM44 21h1v1h-1zM77 21h1v1h-1zM95 22h2v1h-2zM61 23h1v1h-1zM93 51h1v1h-1zM9 53h2v1h-2zM19 56h1v1h-1zM0 59h1v1h-1zM0 60h1v1h-1zM3 60h1v1h-1zM23 82h1v1h-1z"/>
<path fill="#fafafa" d="M0 3h1v1h-1zM3 3h1v1h-1zM14 3h1v1h-1zM19 3h1v1h-1zM54 3h1v1h-1zM60 3h1v1h-1zM106 3h1v1h-1zM18 5h1v1h-1zM4 6h1v1h-1zM11 6h1v1h-1zM35 6h1v1h-1zM71 6h1v1h-1zM12 8h1v1h-1zM14 8h1v1h-1zM19 8h2v1h-2zM25 8h1v1h-1zM30 8h2v1h-2zM33 8h1v1h-1zM36 8h1v1h-1zM52 8h1v1h-1zM77 8h1v1h-1zM14 9h1v1h-1zM20 9h1v1h-1zM17 10h1v1h-1zM49 10h1v1h-1zM30 12h1v1h-1zM18 13h1v1h-1zM12 14h1v1h-1zM35 14h1v1h-1zM89 14h1v1h-1zM4 17h1v1h-1zM30 17h2v1h-2zM57 17h1v1h-1zM66 17h1v1h-1zM75 17h1v1h-1zM85 17h1v1h-1zM99 17h1v1h-1zM102 18h1v1h-1zM104 18h1v1h-1zM28 20h1v1h-1zM4 21h1v1h-1zM11 21h1v1h-1zM12 21h1v1h-1zM21 21h1v1h-1zM29 21h1v1h-1zM31 21h1v1h-1zM35 21h1v1h-1zM45 21h1v1h-1zM74 21h3v1h-3zM90 21h1v1h-1zM0 22h1v1h-1zM9 22h1v1h-1zM15 22h2v1h-2zM30 22h1v1h-1zM39 22h1v1h-1zM40 22h1v1h-1zM44 22h1v1h-1zM45 22h1v1h-1zM55 22h1v1h-1zM69 22h1v1h-1zM72 22h1v1h-1zM74 22h1v1h-1zM79 22h1v1h-1zM93 22h1v1h-1zM97 22h1v1h-1zM0 23h1v1h-1zM19 23h1v1h-1zM20 23h1v1h-1zM54 23h1v1h-1zM59 23h1v1h-1zM73 23h1v1h-1zM101 23h1v1h-1zM29 24h1v1h-1zM48 27h1v1h-1zM102 41h1v1h-1zM101 48h1v1h-1zM104 48h1v1h-1zM101 49h1v1h-1zM104 49h1v1h-1zM3 50h1v1h-1zM48 50h1v1h-1zM101 50h1v1h-1zM104 50h1v1h-1zM17 51h1v1h-1zM63 51h1v1h-1zM69 51h1v1h-1zM74 51h1v1h-1zM76 51h1v1h-1zM78 51h1v1h-1zM79 51h1v1h-1zM91 51h1v1h-1zM94 51h3v1h-3zM99 51h2v1h-2zM25 52h1v1h-1zM0 53h1v1h-1zM3 53h1v1h-1zM15 53h1v1h-1zM37 53h1v1h-1zM40 53h1v1h-1zM46 53h1v1h-1zM72 53h1v1h-1zM75 53h1v1h-1zM86 53h1v1h-1zM88 53h1v1h-1zM96 53h2v1h-2zM100 53h1v1h-1zM105 53h1v1h-1zM23 54h1v1h-1zM60 54h1v1h-1zM7 55h1v1h-1zM101 55h1v1h-1zM103 55h1v1h-1zM20 56h1v1h-1zM32 56h1v1h-1zM38 56h2v1h-2zM43 56h1v1h-1zM44 56h2v1h-2zM33 58h1v1h-1zM3 59h1v1h-1zM29 59h1v1h-1zM32 59h1v1h-1zM38 59h1v1h-1zM41 59h1v1h-1zM43 59h1v1h-1zM88 59h1v1h-1zM29 60h1v1h-1zM32 60h1v1h-1zM38 60h1v1h-1zM88 60h1v1h-1zM25 61h1v1h-1zM25 62h1v1h-1zM103 64h1v1h-1zM4 65h1v1h-1zM15 65h1v1h-1zM16 65h1v1h-1zM30 65h2v1h-2zM52 65h1v1h-1zM56 65h1v1h-1zM67 65h2v1h-2zM78 65h1v1h-1zM84 65h1v1h-1zM93 65h3v1h-3zM97 65h1v1h-1zM103 71h1v1h-1zM18 74h1v1h-1zM18 75h1v1h-1zM101 77h1v1h-1zM0 80h1v1h-1zM64 80h1v1h-1zM69 80h1v1h-1zM56 82h1v1h-1zM62 82h2v1h-2zM66 82h1v1h-1zM87 82h1v1h-1zM106 82h1v1h-1zM32 90h1v1h-1zM35 90h1v1h-1zM41 90h1v1h-1zM43 90h2v1h-2z"/>
<path fill="#fbfbfb" d="M52 12h1v1h-1zM2 13h1v1h-1zM33 14h1v1h-1zM36 14h1v1h-1zM38 14h2v1h-2zM74 14h1v1h-1zM79 14h2v1h-2zM84 14h1v1h-1zM90 14h1v1h-1zM5 17h1v1h-1zM73 17h1v1h-1zM15 21h2v1h-2zM58 21h1v1h-1zM66 21h1v1h-1zM72 21h1v1h-1zM79 21h1v1h-1zM93 21h1v1h-1zM33 22h1v1h-1zM41 22h1v1h-1zM43 22h1v1h-1zM67 22h2v1h-2zM71 22h1v1h-1zM75 22h1v1h-1zM81 22h2v1h-2zM85 22h1v1h-1zM94 22h1v1h-1zM23 23h1v1h-1zM62 23h1v1h-1zM29 26h1v1h-1zM42 26h1v1h-1zM101 26h1v1h-1zM7 33h1v1h-1zM102 48h1v1h-1zM102 49h1v1h-1zM102 50h1v1h-1zM5 51h1v1h-1zM48 51h1v1h-1zM64 51h1v1h-1zM67 51h2v1h-2zM72 51h1v1h-1zM81 51h2v1h-2zM14 53h1v1h-1zM39 53h1v1h-1zM47 54h1v1h-1zM56 54h2v1h-2zM92 54h1v1h-1zM95 54h1v1h-1zM29 56h1v1h-1zM35 56h1v1h-1zM25 58h1v1h-1zM45 59h1v1h-1zM42 60h1v1h-1zM101 61h1v1h-1zM101 62h1v1h-1zM5 65h1v1h-1zM17 65h1v1h-1zM39 65h1v1h-1zM86 65h1v1h-1zM103 72h1v1h-1zM0 78h1v1h-1zM40 80h1v1h-1zM42 80h1v1h-1zM78 82h1v1h-1zM14 90h1v1h-1zM33 90h2v1h-2zM86 90h1v1h-1z"/>
<path fill="#fcfcfc" d="M32 3h1v1h-1zM36 3h1v1h-1zM7 4h1v1h-1zM7 7h1v1h-1zM0 8h1v1h-1zM49 9h1v1h-1zM8 13h1v1h-1zM10 14h2v1h-2zM15 14h1v1h-1zM25 14h1v1h-1zM42 14h1v1h-1zM75 14h1v1h-1zM78 14h1v1h-1zM81 14h1v1h-1zM85 14h1v1h-1zM80 17h1v1h-1zM87 17h1v1h-1zM91 17h1v1h-1zM100 17h1v1h-1zM0 21h1v1h-1zM17 21h1v1h-1zM25 21h1v1h-1zM36 21h1v1h-1zM80 21h2v1h-2zM5 22h1v1h-1zM37 22h1v1h-1zM83 22h2v1h-2zM49 23h1v1h-1zM60 23h1v1h-1zM63 23h3v1h-3zM102 23h1v1h-1zM38 26h1v1h-1zM103 42h1v1h-1zM4 51h1v1h-1zM20 51h2v1h-2zM29 51h1v1h-1zM40 51h1v1h-1zM52 51h1v1h-1zM70 51h2v1h-2zM97 51h1v1h-1zM11 53h1v1h-1zM19 53h1v1h-1zM42 53h1v1h-1zM73 54h1v1h-1zM93 54h2v1h-2zM104 54h1v1h-1zM3 56h1v1h-1zM33 56h1v1h-1zM101 56h1v1h-1zM101 58h1v1h-1zM103 58h1v1h-1zM35 59h1v1h-1zM103 61h1v1h-1zM103 62h1v1h-1zM103 63h1v1h-1zM9 65h1v1h-1zM12 65h1v1h-1zM33 65h1v1h-1zM77 65h1v1h-1zM98 65h1v1h-1zM103 69h1v1h-1zM7 71h1v1h-1zM101 76h1v1h-1zM0 79h1v1h-1zM78 80h1v1h-1zM30 82h1v1h-1zM71 82h1v1h-1zM76 82h1v1h-1zM94 82h1v1h-1zM99 82h2v1h-2zM36 90h1v1h-1zM102 90h1v1h-1z"/>
<path fill="#fdfdfd" d="M77 17h1v1h-1zM49 21h1v1h-1zM13 30h1v1h-1zM13 34h1v1h-1zM16 51h1v1h-1zM7 53h1v1h-1zM25 56h1v1h-1zM36 59h1v1h-1zM36 60h1v1h-1zM13 63h1v1h-1zM7 64h1v1h-1zM103 70h1v1h-1zM40 79h1v1h-1zM83 82h1v1h-1z"/>
</g>
<g font-size="19.8" text-anchor="end" stroke="#000" stroke-width="0.45">
<text x="286.4" y="88.1" textLength="165.9" lengthAdjust="spacingAndGlyphs">CONTR ADENOPIT</text>
<text x="286.4" y="105.4" textLength="124.5" lengthAdjust="spacingAndGlyphs">CONTR CEBM</text>
<text x="286.4" y="122.7" textLength="119.9" lengthAdjust="spacingAndGlyphs">CONTR HEMI</text>
<text x="286.4" y="140.0" textLength="154.3" lengthAdjust="spacingAndGlyphs">CONTR HYPTHAL</text>
<text x="286.4" y="157.3" textLength="142.4" lengthAdjust="spacingAndGlyphs">CONTR INFLAM</text>
<text x="286.4" y="174.7" textLength="135.4" lengthAdjust="spacingAndGlyphs">CONTR PINEAL</text>
<text x="286.4" y="192.0" textLength="121.4" lengthAdjust="spacingAndGlyphs">CONTR PONS</text>
<text x="286.4" y="209.3" textLength="129.3" lengthAdjust="spacingAndGlyphs">CONTR REACT</text>
<text x="286.4" y="226.6" textLength="109.2" lengthAdjust="spacingAndGlyphs">CONTR WM</text>
<text x="286.4" y="243.9" textLength="92.1" lengthAdjust="spacingAndGlyphs">ATRT MYC</text>
<text x="286.4" y="261.2" textLength="88.3" lengthAdjust="spacingAndGlyphs">ATRT SHH</text>
<text x="286.4" y="278.5" textLength="84.0" lengthAdjust="spacingAndGlyphs">ATRT TYR</text>
<text x="286.4" y="295.8" textLength="135.2" lengthAdjust="spacingAndGlyphs">CNS NB FOXR2</text>
<text x="286.4" y="313.1" textLength="53.7" lengthAdjust="spacingAndGlyphs">ETMR</text>
<text x="286.4" y="330.5" textLength="121.9" lengthAdjust="spacingAndGlyphs">HGNET BCOR</text>
<text x="286.4" y="347.8" textLength="62.6" lengthAdjust="spacingAndGlyphs">MB G3</text>
<text x="286.4" y="365.1" textLength="62.6" lengthAdjust="spacingAndGlyphs">MB G4</text>
<text x="286.4" y="382.4" textLength="148.4" lengthAdjust="spacingAndGlyphs">MB SHH CHL AD</text>
<text x="286.4" y="399.7" textLength="111.3" lengthAdjust="spacingAndGlyphs">MB SHH INF</text>
<text x="286.4" y="417.0" textLength="82.6" lengthAdjust="spacingAndGlyphs">MB WNT</text>
<text x="286.4" y="434.3" textLength="84.6" lengthAdjust="spacingAndGlyphs">EPN MPE</text>
<text x="286.4" y="451.6" textLength="82.9" lengthAdjust="spacingAndGlyphs">EPN PF A</text>
<text x="286.4" y="468.9" textLength="82.1" lengthAdjust="spacingAndGlyphs">EPN PF B</text>
<text x="286.4" y="486.3" textLength="86.1" lengthAdjust="spacingAndGlyphs">EPN ZFTA</text>
<text x="286.4" y="503.6" textLength="96.0" lengthAdjust="spacingAndGlyphs">EPN SPINE</text>
<text x="286.4" y="520.9" textLength="76.8" lengthAdjust="spacingAndGlyphs">EPN YAP</text>
<text x="286.4" y="538.2" textLength="101.9" lengthAdjust="spacingAndGlyphs">SUBEPN PF</text>
<text x="286.4" y="555.5" textLength="133.3" lengthAdjust="spacingAndGlyphs">SUBEPN SPINE</text>
<text x="286.4" y="572.8" textLength="101.2" lengthAdjust="spacingAndGlyphs">SUBEPN ST</text>
<text x="286.4" y="590.1" textLength="26.7" lengthAdjust="spacingAndGlyphs">CN</text>
<text x="286.4" y="607.4" textLength="63.4" lengthAdjust="spacingAndGlyphs">DLGNT</text>
<text x="286.4" y="624.7" textLength="56.2" lengthAdjust="spacingAndGlyphs">ENB A</text>
<text x="286.4" y="642.1" textLength="55.4" lengthAdjust="spacingAndGlyphs">ENB B</text>
<text x="286.4" y="659.4" textLength="115.0" lengthAdjust="spacingAndGlyphs">LGG DIG DIA</text>
<text x="286.4" y="676.7" textLength="82.8" lengthAdjust="spacingAndGlyphs">LGG DNT</text>
<text x="286.4" y="694.0" textLength="71.8" lengthAdjust="spacingAndGlyphs">LGG GG</text>
<text x="286.4" y="711.3" textLength="95.5" lengthAdjust="spacingAndGlyphs">LGG RGNT</text>
<text x="286.4" y="728.6" textLength="41.6" lengthAdjust="spacingAndGlyphs">LIPN</text>
<text x="286.4" y="745.9" textLength="69.4" lengthAdjust="spacingAndGlyphs">PGG nC</text>
<text x="286.4" y="763.2" textLength="46.7" lengthAdjust="spacingAndGlyphs">RETB</text>
<text x="286.4" y="780.5" textLength="87.5" lengthAdjust="spacingAndGlyphs">DMG K27</text>
<text x="286.4" y="797.9" textLength="88.4" lengthAdjust="spacingAndGlyphs">GBM G34</text>
<text x="286.4" y="815.2" textLength="91.9" lengthAdjust="spacingAndGlyphs">GBM MES</text>
<text x="286.4" y="832.5" textLength="90.1" lengthAdjust="spacingAndGlyphs">GBM MID</text>
<text x="286.4" y="849.8" textLength="108.2" lengthAdjust="spacingAndGlyphs">GBM MYCN</text>
<text x="286.4" y="867.1" textLength="96.1" lengthAdjust="spacingAndGlyphs">GBM RTK I</text>
<text x="286.4" y="884.4" textLength="101.8" lengthAdjust="spacingAndGlyphs">GBM RTK II</text>
<text x="286.4" y="901.7" textLength="107.5" lengthAdjust="spacingAndGlyphs">GBM RTK III</text>
<text x="286.4" y="919.0" textLength="52.0" lengthAdjust="spacingAndGlyphs">A IDH</text>
<text x="286.4" y="936.3" textLength="85.5" lengthAdjust="spacingAndGlyphs">A IDH HG</text>
<text x="286.4" y="953.6" textLength="53.9" lengthAdjust="spacingAndGlyphs">O IDH</text>
<text x="286.4" y="971.0" textLength="80.7" lengthAdjust="spacingAndGlyphs">LYMPHO</text>
<text x="286.4" y="988.3" textLength="77.2" lengthAdjust="spacingAndGlyphs">PLASMA</text>
<text x="286.4" y="1005.6" textLength="67.7" lengthAdjust="spacingAndGlyphs">MELAN</text>
<text x="286.4" y="1022.9" textLength="74.1" lengthAdjust="spacingAndGlyphs">MELCYT</text>
<text x="286.4" y="1040.2" textLength="86.8" lengthAdjust="spacingAndGlyphs">CHORDM</text>
<text x="286.4" y="1057.5" textLength="67.5" lengthAdjust="spacingAndGlyphs">EFT CIC</text>
<text x="286.4" y="1074.8" textLength="41.6" lengthAdjust="spacingAndGlyphs">EWS</text>
<text x="286.4" y="1092.1" textLength="45.8" lengthAdjust="spacingAndGlyphs">HMB</text>
<text x="286.4" y="1109.4" textLength="48.3" lengthAdjust="spacingAndGlyphs">MNG</text>
<text x="286.4" y="1126.8" textLength="94.2" lengthAdjust="spacingAndGlyphs">SFT HMPC</text>
<text x="286.4" y="1144.1" textLength="56.7" lengthAdjust="spacingAndGlyphs">SCHW</text>
<text x="286.4" y="1161.4" textLength="101.8" lengthAdjust="spacingAndGlyphs">SCHW MEL</text>
<text x="286.4" y="1178.7" textLength="69.7" lengthAdjust="spacingAndGlyphs">ANA PA</text>
<text x="286.4" y="1196.0" textLength="50.0" lengthAdjust="spacingAndGlyphs">CHGL</text>
<text x="286.4" y="1213.3" textLength="115.7" lengthAdjust="spacingAndGlyphs">HGNET MN1</text>
<text x="286.4" y="1230.6" textLength="34.1" lengthAdjust="spacingAndGlyphs">IHG</text>
<text x="286.4" y="1247.9" textLength="85.9" lengthAdjust="spacingAndGlyphs">LGG MYB</text>
<text x="286.4" y="1265.2" textLength="127.2" lengthAdjust="spacingAndGlyphs">LGG PA GG ST</text>
<text x="286.4" y="1282.6" textLength="111.0" lengthAdjust="spacingAndGlyphs">LGG PA MID</text>
<text x="286.4" y="1299.9" textLength="94.1" lengthAdjust="spacingAndGlyphs">LGG PA PF</text>
<text x="286.4" y="1317.2" textLength="92.1" lengthAdjust="spacingAndGlyphs">LGG SEGA</text>
<text x="286.4" y="1334.5" textLength="36.6" lengthAdjust="spacingAndGlyphs">PXA</text>
<text x="286.4" y="1351.8" textLength="100.7" lengthAdjust="spacingAndGlyphs">PIN T  PB A</text>
<text x="286.4" y="1369.1" textLength="99.9" lengthAdjust="spacingAndGlyphs">PIN T  PB B</text>
<text x="286.4" y="1386.4" textLength="87.8" lengthAdjust="spacingAndGlyphs">PIN T PPT</text>
<text x="286.4" y="1403.7" textLength="65.0" lengthAdjust="spacingAndGlyphs">PTPR A</text>
<text x="286.4" y="1421.0" textLength="64.2" lengthAdjust="spacingAndGlyphs">PTPR B</text>
<text x="286.4" y="1438.4" textLength="76.2" lengthAdjust="spacingAndGlyphs">PLEX AD</text>
<text x="286.4" y="1455.7" textLength="104.1" lengthAdjust="spacingAndGlyphs">PLEX PED A</text>
<text x="286.4" y="1473.0" textLength="103.3" lengthAdjust="spacingAndGlyphs">PLEX PED B</text>
<text x="286.4" y="1490.3" textLength="89.4" lengthAdjust="spacingAndGlyphs">CPH ADM</text>
<text x="286.4" y="1507.6" textLength="78.4" lengthAdjust="spacingAndGlyphs">CPH PAP</text>
<text x="286.4" y="1524.9" textLength="109.4" lengthAdjust="spacingAndGlyphs">PITAD ACTH</text>
<text x="286.4" y="1542.2" textLength="122.7" lengthAdjust="spacingAndGlyphs">PITAD FSH LH</text>
<text x="286.4" y="1559.5" textLength="92.5" lengthAdjust="spacingAndGlyphs">PITAD PRL</text>
<text x="286.4" y="1576.8" textLength="156.9" lengthAdjust="spacingAndGlyphs">PITAD STH DNS A</text>
<text x="286.4" y="1594.2" textLength="156.1" lengthAdjust="spacingAndGlyphs">PITAD STH DNS B</text>
<text x="286.4" y="1611.5" textLength="133.8" lengthAdjust="spacingAndGlyphs">PITAD STH SPA</text>
<text x="286.4" y="1628.8" textLength="94.6" lengthAdjust="spacingAndGlyphs">PITAD TSH</text>
<text x="286.4" y="1646.1" textLength="48.7" lengthAdjust="spacingAndGlyphs">PITUI</text>
</g>
<text x="1628.8" y="23.9" font-size="19.1" font-weight="bold" stroke="#000" stroke-width="0.3" textLength="56.8" lengthAdjust="spacingAndGlyphs">Family</text>
<rect x="1626.20" y="32.20" width="13.00" height="12.70" fill="#f68b1f"/>
<text x="1643.6" y="43.7" font-size="19.3" stroke="#000" stroke-width="0.45" textLength="126.7" lengthAdjust="spacingAndGlyphs">Choroid Plexus</text>
<rect x="1626.20" y="52.00" width="13.00" height="12.70" fill="#555a50"/>
<text x="1643.6" y="63.5" font-size="19.3" stroke="#000" stroke-width="0.45" textLength="63.5" lengthAdjust="spacingAndGlyphs">Control</text>
<rect x="1626.20" y="71.80" width="13.00" height="12.70" fill="#5b6eae"/>
<text x="1643.6" y="83.3" font-size="19.3" stroke="#000" stroke-width="0.45" textLength="91.9" lengthAdjust="spacingAndGlyphs">Embryonal</text>
<rect x="1626.20" y="91.60" width="13.00" height="12.70" fill="#79bf44"/>
<text x="1643.6" y="103.1" font-size="19.3" stroke="#000" stroke-width="0.45" textLength="60.8" lengthAdjust="spacingAndGlyphs">Glioma</text>
<rect x="1626.20" y="111.40" width="13.00" height="12.70" fill="#dcbc35"/>
<text x="1643.6" y="122.9" font-size="19.3" stroke="#000" stroke-width="0.45" textLength="132.5" lengthAdjust="spacingAndGlyphs">Neuroblastoma</text>
<rect x="1626.20" y="131.20" width="13.00" height="12.70" fill="#050505"/>
<text x="1643.6" y="142.7" font-size="19.3" stroke="#000" stroke-width="0.45" textLength="49.7" lengthAdjust="spacingAndGlyphs">Other</text>
<text x="1624.6" y="176.8" font-size="19.1" font-weight="bold" stroke="#000" stroke-width="0.3" textLength="43.0" lengthAdjust="spacingAndGlyphs">Class</text>
<rect x="1625.00" y="182.60" width="12.70" height="12.70" fill="#529a46"/>
<text x="1640.6" y="195.3" font-size="19.3" stroke="#000" stroke-width="0.45" textLength="221.5" lengthAdjust="spacingAndGlyphs">Adult Type Diffuse Glioma</text>
<rect x="1625.00" y="201.88" width="12.70" height="12.70" fill="#8fa888"/>
<text x="1640.6" y="214.6" font-size="19.3" stroke="#000" stroke-width="0.45" textLength="150.4" lengthAdjust="spacingAndGlyphs">Astrocytic Glioma</text>
<rect x="1625.00" y="221.16" width="12.70" height="12.70" fill="#665e6b"/>
<text x="1640.6" y="233.9" font-size="19.3" stroke="#000" stroke-width="0.45" textLength="44.6" lengthAdjust="spacingAndGlyphs">Brain</text>
<rect x="1625.00" y="240.44" width="12.70" height="12.70" fill="#f68b1f"/>
<text x="1640.6" y="253.1" font-size="19.3" stroke="#000" stroke-width="0.45" textLength="126.7" lengthAdjust="spacingAndGlyphs">Choroid Plexus</text>
<rect x="1625.00" y="259.72" width="12.70" height="12.70" fill="#529a46"/>
<text x="1640.6" y="272.4" font-size="19.3" stroke="#000" stroke-width="0.45" textLength="118.0" lengthAdjust="spacingAndGlyphs">Ependymoma</text>
<rect x="1625.00" y="279.00" width="12.70" height="12.70" fill="#5296c0"/>
<text x="1640.6" y="291.7" font-size="19.3" stroke="#000" stroke-width="0.45" textLength="150.2" lengthAdjust="spacingAndGlyphs">Medulloblastoma</text>
<rect x="1625.00" y="298.28" width="12.70" height="12.70" fill="#dcbc35"/>
<text x="1640.6" y="311.0" font-size="19.3" stroke="#000" stroke-width="0.45" textLength="132.5" lengthAdjust="spacingAndGlyphs">Neuroblastoma</text>
<rect x="1625.00" y="317.56" width="12.70" height="12.70" fill="#050505"/>
<text x="1640.6" y="330.3" font-size="19.3" stroke="#000" stroke-width="0.45" textLength="49.7" lengthAdjust="spacingAndGlyphs">Other</text>
<rect x="1625.00" y="336.84" width="12.70" height="12.70" fill="#4848a0"/>
<text x="1640.6" y="349.5" font-size="19.3" stroke="#000" stroke-width="0.45" textLength="215.7" lengthAdjust="spacingAndGlyphs">Other Embryonal Tumors</text>
<rect x="1625.00" y="356.12" width="12.70" height="12.70" fill="#469462"/>
<text x="1640.6" y="368.8" font-size="19.3" stroke="#000" stroke-width="0.45" textLength="241.2" lengthAdjust="spacingAndGlyphs">Pediatric High Grade Glioma</text>
<rect x="1625.00" y="375.40" width="12.70" height="12.70" fill="#3a2526"/>
<text x="1640.6" y="388.1" font-size="19.3" stroke="#000" stroke-width="0.45" textLength="47.0" lengthAdjust="spacingAndGlyphs">Thigh</text>
<text x="1623.6" y="425.7" font-size="19.1" font-weight="bold" stroke="#000" stroke-width="0.3" textLength="40.7" lengthAdjust="spacingAndGlyphs">Type</text>
<rect x="1624.40" y="433.70" width="13.00" height="12.60" fill="#476a7e"/>
<text x="1641.3" y="447.8" font-size="19.3" stroke="#000" stroke-width="0.45" textLength="85.4" lengthAdjust="spacingAndGlyphs">ATRT MYC</text>
<rect x="1624.40" y="454.28" width="13.00" height="12.60" fill="#929bd1"/>
<text x="1641.3" y="468.3" font-size="19.3" stroke="#000" stroke-width="0.45" textLength="81.8" lengthAdjust="spacingAndGlyphs">ATRT SHH</text>
<rect x="1624.40" y="474.86" width="13.00" height="12.60" fill="#cfd0cf"/>
<text x="1641.3" y="488.9" font-size="19.3" stroke="#000" stroke-width="0.45" textLength="87.1" lengthAdjust="spacingAndGlyphs">Brainstem</text>
<rect x="1624.40" y="495.44" width="13.00" height="12.60" fill="#1a302c"/>
<text x="1641.3" y="509.5" font-size="19.3" stroke="#000" stroke-width="0.45" textLength="98.3" lengthAdjust="spacingAndGlyphs">Cerebellum</text>
<rect x="1624.40" y="516.02" width="13.00" height="12.60" fill="#979894"/>
<text x="1641.3" y="530.1" font-size="19.3" stroke="#000" stroke-width="0.45" textLength="133.6" lengthAdjust="spacingAndGlyphs">Cerebral Cortex</text>
<rect x="1624.40" y="536.60" width="13.00" height="12.60" fill="#83237e"/>
<text x="1641.3" y="550.6" font-size="19.3" stroke="#000" stroke-width="0.45" textLength="125.4" lengthAdjust="spacingAndGlyphs">CNS NB FOXR2</text>
<rect x="1624.40" y="557.18" width="13.00" height="12.60" fill="#afc97b"/>
<text x="1641.3" y="571.2" font-size="19.3" stroke="#000" stroke-width="0.45" textLength="154.5" lengthAdjust="spacingAndGlyphs">Ependymoma YAP</text>
<rect x="1624.40" y="577.76" width="13.00" height="12.60" fill="#3f5c30"/>
<text x="1641.3" y="591.8" font-size="19.3" stroke="#000" stroke-width="0.45" textLength="163.1" lengthAdjust="spacingAndGlyphs">Ependymoma ZFTA</text>
<rect x="1624.40" y="598.34" width="13.00" height="12.60" fill="#a3bde3"/>
<text x="1641.3" y="612.4" font-size="19.3" stroke="#000" stroke-width="0.45" textLength="49.8" lengthAdjust="spacingAndGlyphs">ETMR</text>
<rect x="1624.40" y="618.92" width="13.00" height="12.60" fill="#84842b"/>
<text x="1641.3" y="633.0" font-size="19.3" stroke="#000" stroke-width="0.45" textLength="42.6" lengthAdjust="spacingAndGlyphs">GBM</text>
<rect x="1624.40" y="639.50" width="13.00" height="12.60" fill="#68792f"/>
<text x="1641.3" y="653.5" font-size="19.3" stroke="#000" stroke-width="0.45" textLength="58.3" lengthAdjust="spacingAndGlyphs">H3G34</text>
<rect x="1624.40" y="660.08" width="13.00" height="12.60" fill="#6dc06d"/>
<text x="1641.3" y="674.1" font-size="19.3" stroke="#000" stroke-width="0.45" textLength="73.9" lengthAdjust="spacingAndGlyphs">H3K27M</text>
<rect x="1624.40" y="680.66" width="13.00" height="12.60" fill="#abc63b"/>
<text x="1641.3" y="694.7" font-size="19.3" stroke="#000" stroke-width="0.45" textLength="88.7" lengthAdjust="spacingAndGlyphs">IDH H3WT</text>
<rect x="1624.40" y="701.24" width="13.00" height="12.60" fill="#5cc8e8"/>
<text x="1641.3" y="715.3" font-size="19.3" stroke="#000" stroke-width="0.45" textLength="58.0" lengthAdjust="spacingAndGlyphs">MB G3</text>
<rect x="1624.40" y="721.82" width="13.00" height="12.60" fill="#4846a2"/>
<text x="1641.3" y="735.9" font-size="19.3" stroke="#000" stroke-width="0.45" textLength="58.0" lengthAdjust="spacingAndGlyphs">MB G4</text>
<rect x="1624.40" y="742.40" width="13.00" height="12.60" fill="#5956a8"/>
<text x="1641.3" y="756.5" font-size="19.3" stroke="#000" stroke-width="0.45" textLength="69.9" lengthAdjust="spacingAndGlyphs">MB SHH</text>
<rect x="1624.40" y="762.98" width="13.00" height="12.60" fill="#7173bd"/>
<text x="1641.3" y="777.0" font-size="19.3" stroke="#000" stroke-width="0.45" textLength="76.6" lengthAdjust="spacingAndGlyphs">MB WNT</text>
<rect x="1624.40" y="783.56" width="13.00" height="12.60" fill="#8c5fac"/>
<text x="1641.3" y="797.6" font-size="19.3" stroke="#000" stroke-width="0.45" textLength="62.2" lengthAdjust="spacingAndGlyphs">MPNST</text>
<rect x="1624.40" y="804.14" width="13.00" height="12.60" fill="#b1c5ea"/>
<text x="1641.3" y="818.2" font-size="19.3" stroke="#000" stroke-width="0.45" textLength="38.7" lengthAdjust="spacingAndGlyphs">MRT</text>
<rect x="1624.40" y="824.72" width="13.00" height="12.60" fill="#dcbc35"/>
<text x="1641.3" y="838.8" font-size="19.3" stroke="#000" stroke-width="0.45" textLength="190.2" lengthAdjust="spacingAndGlyphs">Neuroblastoma MYCN</text>
<rect x="1624.40" y="845.30" width="13.00" height="12.60" fill="#050505"/>
<text x="1641.3" y="859.3" font-size="19.3" stroke="#000" stroke-width="0.45" textLength="49.7" lengthAdjust="spacingAndGlyphs">Other</text>
<rect x="1624.40" y="865.88" width="13.00" height="12.60" fill="#72c79c"/>
<text x="1641.3" y="879.9" font-size="19.3" stroke="#000" stroke-width="0.45" textLength="33.9" lengthAdjust="spacingAndGlyphs">PXA</text>
<rect x="1624.40" y="886.46" width="13.00" height="12.60" fill="#f68b1f"/>
<text x="1641.3" y="900.5" font-size="19.3" stroke="#000" stroke-width="0.45" textLength="150.4" lengthAdjust="spacingAndGlyphs">Plexus Carcinoma</text>
<rect x="1624.40" y="907.04" width="13.00" height="12.60" fill="#1c2839"/>
<text x="1641.3" y="921.1" font-size="19.3" stroke="#000" stroke-width="0.45" textLength="82.2" lengthAdjust="spacingAndGlyphs">Thalamus</text>
<rect x="1624.40" y="927.62" width="13.00" height="12.60" fill="#3a2526"/>
<text x="1641.3" y="941.7" font-size="19.3" stroke="#000" stroke-width="0.45" textLength="47.0" lengthAdjust="spacingAndGlyphs">Thigh</text>
<text x="1624.3" y="987.3" font-size="20.9" font-weight="bold" stroke="#000" stroke-width="0.3" textLength="169.7" lengthAdjust="spacingAndGlyphs">Distance in UMAP</text>
<defs><linearGradient id="cb" x1="0" y1="0" x2="0" y2="1"><stop offset="0" stop-color="#fff"/><stop offset="0.15" stop-color="#f1f1f1"/><stop offset="0.3" stop-color="#e4e4e4"/><stop offset="0.46" stop-color="#d8d8d8"/><stop offset="0.62" stop-color="#cbcbcb"/><stop offset="0.74" stop-color="#bfbfbf"/><stop offset="0.8" stop-color="#999"/><stop offset="0.88" stop-color="#555"/><stop offset="0.95" stop-color="#0a0a0a"/><stop offset="1" stop-color="#000"/></linearGradient></defs>
<rect x="1621.50" y="1010.80" width="15.70" height="72.70" fill="url(#cb)"/>
<path d="M1621.5 1043.5H1625.7M1633.6 1043.5H1637.2M1621.5 1080.5H1625.7M1633.6 1080.5H1637.2" stroke="#fff" stroke-width="1" fill="none"/>
<text x="1641.5" y="1011.5" font-size="19.8" stroke="#000" stroke-width="0.45" textLength="21.8" lengthAdjust="spacingAndGlyphs">10</text>
<text x="1641.5" y="1048.8" font-size="19.8" stroke="#000" stroke-width="0.45">5</text>
<text x="1641.5" y="1085.2" font-size="19.8" stroke="#000" stroke-width="0.45">0</text>
</g>
<g id="panel-b">
<text x="2.70" y="1708.00" font-size="35.5" font-weight="bold" fill="#231f20">b</text>
<rect x="264.50" y="1766.00" width="24.79" height="43.10" fill="#f68b1f"/>
<rect x="288.99" y="1766.00" width="269.67" height="43.10" fill="#555a50"/>
<rect x="558.35" y="1766.00" width="379.86" height="43.10" fill="#5b6eae"/>
<rect x="937.92" y="1766.00" width="575.76" height="43.10" fill="#79bf44"/>
<rect x="1513.38" y="1766.00" width="24.79" height="43.10" fill="#dcbc35"/>
<rect x="1537.87" y="1766.00" width="37.03" height="43.10" fill="#050505"/>
<rect x="264.50" y="1809.10" width="24.79" height="43.50" fill="#f68b1f"/>
<rect x="288.99" y="1809.10" width="196.20" height="43.50" fill="#665e6b"/>
<rect x="484.89" y="1809.10" width="12.54" height="43.50" fill="#3a2526"/>
<rect x="497.13" y="1809.10" width="61.52" height="43.50" fill="#665e6b"/>
<rect x="558.35" y="1809.10" width="86.01" height="43.50" fill="#4848a0"/>
<rect x="644.06" y="1809.10" width="281.91" height="43.50" fill="#5296c0"/>
<rect x="925.67" y="1809.10" width="12.54" height="43.50" fill="#4848a0"/>
<rect x="937.92" y="1809.10" width="86.01" height="43.50" fill="#529a46"/>
<rect x="1023.62" y="1809.10" width="24.79" height="43.50" fill="#55993f"/>
<rect x="1048.11" y="1809.10" width="441.08" height="43.50" fill="#469462"/>
<rect x="1488.89" y="1809.10" width="24.79" height="43.50" fill="#8fa888"/>
<rect x="1513.38" y="1809.10" width="24.79" height="43.50" fill="#dcbc35"/>
<rect x="1537.87" y="1809.10" width="37.03" height="43.50" fill="#050505"/>
<rect x="264.50" y="1852.60" width="24.79" height="43.60" fill="#f68b1f"/>
<rect x="288.99" y="1852.60" width="61.52" height="43.60" fill="#cfd0cf"/>
<rect x="350.21" y="1852.60" width="73.76" height="43.60" fill="#1a302c"/>
<rect x="423.67" y="1852.60" width="61.52" height="43.60" fill="#979894"/>
<rect x="484.89" y="1852.60" width="12.54" height="43.60" fill="#5a5f56"/>
<rect x="497.13" y="1852.60" width="61.52" height="43.60" fill="#1c2839"/>
<rect x="558.35" y="1852.60" width="37.03" height="43.60" fill="#476a7e"/>
<rect x="595.09" y="1852.60" width="24.79" height="43.60" fill="#929bd1"/>
<rect x="619.57" y="1852.60" width="12.54" height="43.60" fill="#83237e"/>
<rect x="631.82" y="1852.60" width="12.54" height="43.60" fill="#1f93d6"/>
<rect x="644.06" y="1852.60" width="86.01" height="43.60" fill="#5cc8e8"/>
<rect x="729.77" y="1852.60" width="12.54" height="43.60" fill="#4846a2"/>
<rect x="742.01" y="1852.60" width="171.71" height="43.60" fill="#5956a8"/>
<rect x="913.43" y="1852.60" width="12.54" height="43.60" fill="#7173bd"/>
<rect x="925.67" y="1852.60" width="12.54" height="43.60" fill="#b1c5ea"/>
<rect x="937.92" y="1852.60" width="12.54" height="43.60" fill="#afc97b"/>
<rect x="950.16" y="1852.60" width="73.76" height="43.60" fill="#3f5c30"/>
<rect x="1023.62" y="1852.60" width="24.79" height="43.60" fill="#84842b"/>
<rect x="1048.11" y="1852.60" width="24.79" height="43.60" fill="#68792f"/>
<rect x="1072.60" y="1852.60" width="73.76" height="43.60" fill="#6dc06d"/>
<rect x="1146.06" y="1852.60" width="343.13" height="43.60" fill="#abc63b"/>
<rect x="1488.89" y="1852.60" width="24.79" height="43.60" fill="#72c79c"/>
<rect x="1513.38" y="1852.60" width="24.79" height="43.60" fill="#dcbc35"/>
<rect x="1537.87" y="1852.60" width="24.79" height="43.60" fill="#8c5fac"/>
<rect x="1562.36" y="1852.60" width="12.54" height="43.60" fill="#050505"/>
<rect x="264.50" y="1896.20" width="12.54" height="43.80" fill="#555a50"/>
<rect x="276.74" y="1896.20" width="12.54" height="43.80" fill="#8fd08f"/>
<rect x="288.99" y="1896.20" width="24.79" height="43.80" fill="#3c55a8"/>
<rect x="313.48" y="1896.20" width="24.79" height="43.80" fill="#555a50"/>
<rect x="337.96" y="1896.20" width="37.03" height="43.80" fill="#3c55a8"/>
<rect x="374.70" y="1896.20" width="37.03" height="43.80" fill="#555a50"/>
<rect x="411.43" y="1896.20" width="12.54" height="43.80" fill="#2b3090"/>
<rect x="423.67" y="1896.20" width="24.79" height="43.80" fill="#3c55a8"/>
<rect x="448.16" y="1896.20" width="37.03" height="43.80" fill="#555a50"/>
<rect x="484.89" y="1896.20" width="12.54" height="43.80" fill="#556b2f"/>
<rect x="497.13" y="1896.20" width="12.54" height="43.80" fill="#3c55a8"/>
<rect x="509.38" y="1896.20" width="12.54" height="43.80" fill="#556b2f"/>
<rect x="521.62" y="1896.20" width="12.54" height="43.80" fill="#3c55a8"/>
<rect x="533.87" y="1896.20" width="12.54" height="43.80" fill="#555a50"/>
<rect x="546.11" y="1896.20" width="12.54" height="43.80" fill="#3c55a8"/>
<rect x="558.35" y="1896.20" width="37.03" height="43.80" fill="#556b2f"/>
<rect x="595.09" y="1896.20" width="24.79" height="43.80" fill="#3c55a8"/>
<rect x="619.57" y="1896.20" width="12.54" height="43.80" fill="#555a50"/>
<rect x="631.82" y="1896.20" width="24.79" height="43.80" fill="#3c55a8"/>
<rect x="656.31" y="1896.20" width="12.54" height="43.80" fill="#2b3090"/>
<rect x="668.55" y="1896.20" width="12.54" height="43.80" fill="#556b2f"/>
<rect x="680.79" y="1896.20" width="12.54" height="43.80" fill="#555a50"/>
<rect x="693.04" y="1896.20" width="12.54" height="43.80" fill="#3c55a8"/>
<rect x="705.28" y="1896.20" width="12.54" height="43.80" fill="#2b3090"/>
<rect x="717.53" y="1896.20" width="24.79" height="43.80" fill="#555a50"/>
<rect x="742.01" y="1896.20" width="110.50" height="43.80" fill="#2b3090"/>
<rect x="852.21" y="1896.20" width="12.54" height="43.80" fill="#555a50"/>
<rect x="864.45" y="1896.20" width="49.28" height="43.80" fill="#2b3090"/>
<rect x="913.43" y="1896.20" width="12.54" height="43.80" fill="#555a50"/>
<rect x="925.67" y="1896.20" width="24.79" height="43.80" fill="#556b2f"/>
<rect x="950.16" y="1896.20" width="24.79" height="43.80" fill="#555a50"/>
<rect x="974.65" y="1896.20" width="37.03" height="43.80" fill="#556b2f"/>
<rect x="1011.38" y="1896.20" width="12.54" height="43.80" fill="#555a50"/>
<rect x="1023.62" y="1896.20" width="12.54" height="43.80" fill="#84842b"/>
<rect x="1035.87" y="1896.20" width="12.54" height="43.80" fill="#555a50"/>
<rect x="1048.11" y="1896.20" width="24.79" height="43.80" fill="#84842b"/>
<rect x="1072.60" y="1896.20" width="37.03" height="43.80" fill="#9ccf8b"/>
<rect x="1109.33" y="1896.20" width="12.54" height="43.80" fill="#555a50"/>
<rect x="1121.57" y="1896.20" width="12.54" height="43.80" fill="#9ccf8b"/>
<rect x="1133.82" y="1896.20" width="12.54" height="43.80" fill="#555a50"/>
<rect x="1146.06" y="1896.20" width="12.54" height="43.80" fill="#556b2f"/>
<rect x="1158.31" y="1896.20" width="12.54" height="43.80" fill="#84842b"/>
<rect x="1170.55" y="1896.20" width="12.54" height="43.80" fill="#556b2f"/>
<rect x="1182.79" y="1896.20" width="37.03" height="43.80" fill="#555a50"/>
<rect x="1219.53" y="1896.20" width="12.54" height="43.80" fill="#556b2f"/>
<rect x="1231.77" y="1896.20" width="12.54" height="43.80" fill="#84842b"/>
<rect x="1244.01" y="1896.20" width="24.79" height="43.80" fill="#9ccf8b"/>
<rect x="1268.50" y="1896.20" width="24.79" height="43.80" fill="#556b2f"/>
<rect x="1292.99" y="1896.20" width="37.03" height="43.80" fill="#555a50"/>
<rect x="1329.72" y="1896.20" width="12.54" height="43.80" fill="#84842b"/>
<rect x="1341.97" y="1896.20" width="12.54" height="43.80" fill="#556b2f"/>
<rect x="1354.21" y="1896.20" width="24.79" height="43.80" fill="#555a50"/>
<rect x="1378.70" y="1896.20" width="12.54" height="43.80" fill="#9ccf8b"/>
<rect x="1390.94" y="1896.20" width="12.54" height="43.80" fill="#1a6b3a"/>
<rect x="1403.19" y="1896.20" width="12.54" height="43.80" fill="#556b2f"/>
<rect x="1415.43" y="1896.20" width="12.54" height="43.80" fill="#9ccf8b"/>
<rect x="1427.67" y="1896.20" width="12.54" height="43.80" fill="#84842b"/>
<rect x="1439.92" y="1896.20" width="12.54" height="43.80" fill="#555a50"/>
<rect x="1452.16" y="1896.20" width="12.54" height="43.80" fill="#9ccf8b"/>
<rect x="1464.40" y="1896.20" width="12.54" height="43.80" fill="#84842b"/>
<rect x="1476.65" y="1896.20" width="37.03" height="43.80" fill="#555a50"/>
<rect x="1513.38" y="1896.20" width="49.28" height="43.80" fill="#556b2f"/>
<rect x="1562.36" y="1896.20" width="12.54" height="43.80" fill="#952525"/>
<rect x="264.50" y="1940.00" width="12.54" height="43.60" fill="#555a50"/>
<rect x="276.74" y="1940.00" width="12.54" height="43.60" fill="#556b2f"/>
<rect x="288.99" y="1940.00" width="24.79" height="43.60" fill="#2090d8"/>
<rect x="313.48" y="1940.00" width="24.79" height="43.60" fill="#555a50"/>
<rect x="337.96" y="1940.00" width="24.79" height="43.60" fill="#2090d8"/>
<rect x="362.45" y="1940.00" width="12.54" height="43.60" fill="#8fd08f"/>
<rect x="374.70" y="1940.00" width="49.28" height="43.60" fill="#555a50"/>
<rect x="423.67" y="1940.00" width="12.54" height="43.60" fill="#556b2f"/>
<rect x="435.91" y="1940.00" width="24.79" height="43.60" fill="#555a50"/>
<rect x="460.40" y="1940.00" width="12.54" height="43.60" fill="#3cc0c8"/>
<rect x="472.65" y="1940.00" width="12.54" height="43.60" fill="#2090d8"/>
<rect x="484.89" y="1940.00" width="12.54" height="43.60" fill="#3cc0c8"/>
<rect x="497.13" y="1940.00" width="12.54" height="43.60" fill="#8fd08f"/>
<rect x="509.38" y="1940.00" width="37.03" height="43.60" fill="#555a50"/>
<rect x="546.11" y="1940.00" width="12.54" height="43.60" fill="#2090d8"/>
<rect x="558.35" y="1940.00" width="61.52" height="43.60" fill="#3c55a8"/>
<rect x="619.57" y="1940.00" width="12.54" height="43.60" fill="#83237e"/>
<rect x="631.82" y="1940.00" width="12.54" height="43.60" fill="#8fd08f"/>
<rect x="644.06" y="1940.00" width="37.03" height="43.60" fill="#555a50"/>
<rect x="680.79" y="1940.00" width="12.54" height="43.60" fill="#8fd08f"/>
<rect x="693.04" y="1940.00" width="12.54" height="43.60" fill="#555a50"/>
<rect x="705.28" y="1940.00" width="12.54" height="43.60" fill="#2b3090"/>
<rect x="717.53" y="1940.00" width="24.79" height="43.60" fill="#555a50"/>
<rect x="742.01" y="1940.00" width="61.52" height="43.60" fill="#2b3090"/>
<rect x="803.23" y="1940.00" width="12.54" height="43.60" fill="#555a50"/>
<rect x="815.48" y="1940.00" width="98.25" height="43.60" fill="#2b3090"/>
<rect x="913.43" y="1940.00" width="24.79" height="43.60" fill="#555a50"/>
<rect x="937.92" y="1940.00" width="12.54" height="43.60" fill="#952525"/>
<rect x="950.16" y="1940.00" width="12.54" height="43.60" fill="#f9a11b"/>
<rect x="962.40" y="1940.00" width="37.03" height="43.60" fill="#555a50"/>
<rect x="999.14" y="1940.00" width="12.54" height="43.60" fill="#3cc0c8"/>
<rect x="1011.38" y="1940.00" width="12.54" height="43.60" fill="#555a50"/>
<rect x="1023.62" y="1940.00" width="12.54" height="43.60" fill="#4a8ad4"/>
<rect x="1035.87" y="1940.00" width="12.54" height="43.60" fill="#f5f5dc"/>
<rect x="1048.11" y="1940.00" width="12.54" height="43.60" fill="#555a50"/>
<rect x="1060.36" y="1940.00" width="61.52" height="43.60" fill="#ffd500"/>
<rect x="1121.57" y="1940.00" width="37.03" height="43.60" fill="#555a50"/>
<rect x="1158.31" y="1940.00" width="61.52" height="43.60" fill="#ffd500"/>
<rect x="1219.53" y="1940.00" width="12.54" height="43.60" fill="#555a50"/>
<rect x="1231.77" y="1940.00" width="12.54" height="43.60" fill="#ffd500"/>
<rect x="1244.01" y="1940.00" width="12.54" height="43.60" fill="#555a50"/>
<rect x="1256.26" y="1940.00" width="12.54" height="43.60" fill="#ffd500"/>
<rect x="1268.50" y="1940.00" width="24.79" height="43.60" fill="#555a50"/>
<rect x="1292.99" y="1940.00" width="12.54" height="43.60" fill="#4a8ad4"/>
<rect x="1305.23" y="1940.00" width="12.54" height="43.60" fill="#f5f5dc"/>
<rect x="1317.48" y="1940.00" width="24.79" height="43.60" fill="#555a50"/>
<rect x="1341.97" y="1940.00" width="12.54" height="43.60" fill="#ffd500"/>
<rect x="1354.21" y="1940.00" width="24.79" height="43.60" fill="#555a50"/>
<rect x="1378.70" y="1940.00" width="61.52" height="43.60" fill="#ffd500"/>
<rect x="1439.92" y="1940.00" width="61.52" height="43.60" fill="#555a50"/>
<rect x="1501.14" y="1940.00" width="12.54" height="43.60" fill="#ffd500"/>
<rect x="1513.38" y="1940.00" width="24.79" height="43.60" fill="#555a50"/>
<rect x="1537.87" y="1940.00" width="12.54" height="43.60" fill="#f5f5dc"/>
<rect x="1550.11" y="1940.00" width="12.54" height="43.60" fill="#952525"/>
<rect x="1562.36" y="1940.00" width="12.54" height="43.60" fill="#3cc0c8"/>
<rect x="264.50" y="1983.60" width="49.28" height="43.60" fill="#d2d2d2"/>
<rect x="313.48" y="1983.60" width="24.79" height="43.60" fill="#030303"/>
<rect x="337.96" y="1983.60" width="37.03" height="43.60" fill="#d2d2d2"/>
<rect x="374.70" y="1983.60" width="37.03" height="43.60" fill="#030303"/>
<rect x="411.43" y="1983.60" width="12.54" height="43.60" fill="#999999"/>
<rect x="423.67" y="1983.60" width="12.54" height="43.60" fill="#d2d2d2"/>
<rect x="435.91" y="1983.60" width="12.54" height="43.60" fill="#999999"/>
<rect x="448.16" y="1983.60" width="12.54" height="43.60" fill="#030303"/>
<rect x="460.40" y="1983.60" width="24.79" height="43.60" fill="#6e6e6e"/>
<rect x="484.89" y="1983.60" width="24.79" height="43.60" fill="#d2d2d2"/>
<rect x="509.38" y="1983.60" width="24.79" height="43.60" fill="#999999"/>
<rect x="533.87" y="1983.60" width="12.54" height="43.60" fill="#030303"/>
<rect x="546.11" y="1983.60" width="12.54" height="43.60" fill="#d2d2d2"/>
<rect x="558.35" y="1983.60" width="37.03" height="43.60" fill="#999999"/>
<rect x="595.09" y="1983.60" width="24.79" height="43.60" fill="#030303"/>
<rect x="619.57" y="1983.60" width="12.54" height="43.60" fill="#999999"/>
<rect x="631.82" y="1983.60" width="110.50" height="43.60" fill="#d2d2d2"/>
<rect x="742.01" y="1983.60" width="61.52" height="43.60" fill="#030303"/>
<rect x="803.23" y="1983.60" width="12.54" height="43.60" fill="#6e6e6e"/>
<rect x="815.48" y="1983.60" width="37.03" height="43.60" fill="#030303"/>
<rect x="852.21" y="1983.60" width="12.54" height="43.60" fill="#999999"/>
<rect x="864.45" y="1983.60" width="49.28" height="43.60" fill="#030303"/>
<rect x="913.43" y="1983.60" width="110.50" height="43.60" fill="#d2d2d2"/>
<rect x="1023.62" y="1983.60" width="12.54" height="43.60" fill="#6e6e6e"/>
<rect x="1035.87" y="1983.60" width="37.03" height="43.60" fill="#d2d2d2"/>
<rect x="1072.60" y="1983.60" width="37.03" height="43.60" fill="#6e6e6e"/>
<rect x="1109.33" y="1983.60" width="12.54" height="43.60" fill="#d2d2d2"/>
<rect x="1121.57" y="1983.60" width="12.54" height="43.60" fill="#6e6e6e"/>
<rect x="1133.82" y="1983.60" width="24.79" height="43.60" fill="#d2d2d2"/>
<rect x="1158.31" y="1983.60" width="12.54" height="43.60" fill="#6e6e6e"/>
<rect x="1170.55" y="1983.60" width="61.52" height="43.60" fill="#d2d2d2"/>
<rect x="1231.77" y="1983.60" width="12.54" height="43.60" fill="#6e6e6e"/>
<rect x="1244.01" y="1983.60" width="86.01" height="43.60" fill="#d2d2d2"/>
<rect x="1329.72" y="1983.60" width="12.54" height="43.60" fill="#6e6e6e"/>
<rect x="1341.97" y="1983.60" width="86.01" height="43.60" fill="#d2d2d2"/>
<rect x="1427.67" y="1983.60" width="12.54" height="43.60" fill="#6e6e6e"/>
<rect x="1439.92" y="1983.60" width="24.79" height="43.60" fill="#d2d2d2"/>
<rect x="1464.40" y="1983.60" width="12.54" height="43.60" fill="#6e6e6e"/>
<rect x="1476.65" y="1983.60" width="98.25" height="43.60" fill="#d2d2d2"/>
<g fill="#fff" font-size="10.8" font-weight="bold" text-anchor="middle" font-family="DejaVu Sans,sans-serif">
<text transform="translate(323.9,1918.6) rotate(-90)" textLength="26.4" lengthAdjust="spacing">****</text>
<text transform="translate(336.1,1918.6) rotate(-90)" textLength="26.4" lengthAdjust="spacing">****</text>
<text transform="translate(385.1,1918.6) rotate(-90)" textLength="26.4" lengthAdjust="spacing">****</text>
<text transform="translate(397.4,1918.6) rotate(-90)" textLength="26.4" lengthAdjust="spacing">****</text>
<text transform="translate(409.6,1918.6) rotate(-90)" textLength="26.4" lengthAdjust="spacing">****</text>
<text transform="translate(458.6,1918.6) rotate(-90)" textLength="26.4" lengthAdjust="spacing">****</text>
<text transform="translate(470.8,1918.6) rotate(-90)" textLength="26.4" lengthAdjust="spacing">****</text>
<text transform="translate(483.1,1918.6) rotate(-90)" textLength="26.4" lengthAdjust="spacing">****</text>
<text transform="translate(544.3,1918.6) rotate(-90)" textLength="12.6" lengthAdjust="spacing">**</text>
<text transform="translate(605.5,1918.6) rotate(-90)" textLength="26.4" lengthAdjust="spacing">****</text>
<text transform="translate(617.8,1918.6) rotate(-90)" textLength="26.4" lengthAdjust="spacing">****</text>
<text transform="translate(752.4,1918.6) rotate(-90)" textLength="26.4" lengthAdjust="spacing">****</text>
<text transform="translate(764.7,1918.6) rotate(-90)" textLength="12.6" lengthAdjust="spacing">**</text>
<text transform="translate(776.9,1918.6) rotate(-90)" textLength="26.4" lengthAdjust="spacing">****</text>
<text transform="translate(789.2,1918.6) rotate(-90)" textLength="12.6" lengthAdjust="spacing">**</text>
<text transform="translate(801.4,1918.6) rotate(-90)" textLength="26.4" lengthAdjust="spacing">****</text>
<text transform="translate(813.7,1918.6) rotate(-90)" textLength="26.4" lengthAdjust="spacing">****</text>
<text transform="translate(825.9,1918.6) rotate(-90)" textLength="26.4" lengthAdjust="spacing">****</text>
<text transform="translate(838.1,1918.6) rotate(-90)" textLength="19.5" lengthAdjust="spacing">***</text>
<text transform="translate(850.4,1918.6) rotate(-90)" textLength="12.6" lengthAdjust="spacing">**</text>
<text transform="translate(874.9,1918.6) rotate(-90)" textLength="26.4" lengthAdjust="spacing">****</text>
<text transform="translate(887.1,1918.6) rotate(-90)" textLength="12.6" lengthAdjust="spacing">**</text>
<text transform="translate(899.4,1918.6) rotate(-90)" textLength="26.4" lengthAdjust="spacing">****</text>
<text transform="translate(911.6,1918.6) rotate(-90)" textLength="26.4" lengthAdjust="spacing">****</text>
<text transform="translate(1034.0,1918.6) rotate(-90)">*</text>
<text transform="translate(1083.0,1918.6) rotate(-90)" textLength="26.4" lengthAdjust="spacing">****</text>
<text transform="translate(1095.3,1918.6) rotate(-90)" textLength="19.5" lengthAdjust="spacing">***</text>
<text transform="translate(1107.5,1918.6) rotate(-90)" textLength="19.5" lengthAdjust="spacing">***</text>
<text transform="translate(1132.0,1918.6) rotate(-90)" textLength="19.5" lengthAdjust="spacing">***</text>
<text transform="translate(1168.7,1918.6) rotate(-90)">*</text>
<text transform="translate(1242.2,1918.6) rotate(-90)" textLength="19.5" lengthAdjust="spacing">***</text>
<text transform="translate(1340.1,1918.6) rotate(-90)">*</text>
<text transform="translate(1474.8,1918.6) rotate(-90)">*</text>
</g>
<g fill="#fff" font-size="10.8" font-weight="bold" text-anchor="middle" font-family="DejaVu Sans,sans-serif">
<text transform="translate(323.9,1962.1) rotate(-90)" textLength="26.4" lengthAdjust="spacing">****</text>
<text transform="translate(336.1,1962.1) rotate(-90)" textLength="26.4" lengthAdjust="spacing">****</text>
<text transform="translate(385.1,1962.1) rotate(-90)" textLength="26.4" lengthAdjust="spacing">****</text>
<text transform="translate(397.4,1962.1) rotate(-90)" textLength="26.4" lengthAdjust="spacing">****</text>
<text transform="translate(409.6,1962.1) rotate(-90)" textLength="26.4" lengthAdjust="spacing">****</text>
<text transform="translate(421.8,1962.1) rotate(-90)" textLength="12.6" lengthAdjust="spacing">**</text>
<text transform="translate(446.3,1962.1) rotate(-90)" textLength="12.6" lengthAdjust="spacing">**</text>
<text transform="translate(458.6,1962.1) rotate(-90)" textLength="12.6" lengthAdjust="spacing">**</text>
<text transform="translate(519.8,1962.1) rotate(-90)" textLength="26.4" lengthAdjust="spacing">****</text>
<text transform="translate(532.0,1962.1) rotate(-90)" textLength="26.4" lengthAdjust="spacing">****</text>
<text transform="translate(544.3,1962.1) rotate(-90)" textLength="26.4" lengthAdjust="spacing">****</text>
<text transform="translate(568.8,1962.1) rotate(-90)" textLength="12.6" lengthAdjust="spacing">**</text>
<text transform="translate(581.3,1962.1) rotate(-90)" font-family="Liberation Sans,sans-serif" font-weight="normal" font-size="17.5" textLength="15.6" lengthAdjust="spacingAndGlyphs">ns</text>
<text transform="translate(593.3,1962.1) rotate(-90)">*</text>
<text transform="translate(605.5,1962.1) rotate(-90)" textLength="12.6" lengthAdjust="spacing">**</text>
<text transform="translate(618.1,1962.1) rotate(-90)" font-family="Liberation Sans,sans-serif" font-weight="normal" font-size="17.5" textLength="15.6" lengthAdjust="spacingAndGlyphs">ns</text>
<text transform="translate(630.0,1962.1) rotate(-90)">*</text>
<text transform="translate(752.4,1962.1) rotate(-90)" textLength="26.4" lengthAdjust="spacing">****</text>
<text transform="translate(764.7,1962.1) rotate(-90)" textLength="26.4" lengthAdjust="spacing">****</text>
<text transform="translate(776.9,1962.1) rotate(-90)" textLength="12.6" lengthAdjust="spacing">**</text>
<text transform="translate(789.2,1962.1) rotate(-90)" textLength="26.4" lengthAdjust="spacing">****</text>
<text transform="translate(801.4,1962.1) rotate(-90)" textLength="26.4" lengthAdjust="spacing">****</text>
<text transform="translate(825.9,1962.1) rotate(-90)" textLength="26.4" lengthAdjust="spacing">****</text>
<text transform="translate(838.1,1962.1) rotate(-90)" textLength="26.4" lengthAdjust="spacing">****</text>
<text transform="translate(850.4,1962.1) rotate(-90)" textLength="19.5" lengthAdjust="spacing">***</text>
<text transform="translate(862.6,1962.1) rotate(-90)" textLength="26.4" lengthAdjust="spacing">****</text>
<text transform="translate(874.9,1962.1) rotate(-90)" textLength="26.4" lengthAdjust="spacing">****</text>
<text transform="translate(887.1,1962.1) rotate(-90)" textLength="12.6" lengthAdjust="spacing">**</text>
<text transform="translate(899.4,1962.1) rotate(-90)" textLength="26.4" lengthAdjust="spacing">****</text>
<text transform="translate(911.6,1962.1) rotate(-90)" textLength="26.4" lengthAdjust="spacing">****</text>
</g>
<path d="M263.5 1713.3H1575.6M263.5 1766.0H1575.6M263.5 1809.1H1575.6M263.5 1852.6H1575.6M263.5 1896.2H1575.6M263.5 1940.0H1575.6M263.5 1983.6H1575.6M263.5 2027.2H1575.6M264.5 1713.3V2027.2M1574.6 1713.3V2027.2" stroke="#000" stroke-width="2.1" fill="none"/>
<path d="M276.74 1713.3V1766.0M288.99 1713.3V1766.0M301.23 1713.3V1766.0M313.48 1713.3V1766.0M325.72 1713.3V1766.0M337.96 1713.3V1766.0M350.21 1713.3V1766.0M362.45 1713.3V1766.0M374.70 1713.3V1766.0M386.94 1713.3V1766.0M399.18 1713.3V1766.0M411.43 1713.3V1766.0M423.67 1713.3V1766.0M435.91 1713.3V1766.0M448.16 1713.3V1766.0M460.40 1713.3V1766.0M472.65 1713.3V1766.0M484.89 1713.3V1766.0M497.13 1713.3V1766.0M509.38 1713.3V1766.0M521.62 1713.3V1766.0M533.87 1713.3V1766.0M546.11 1713.3V1766.0M558.35 1713.3V1766.0M570.60 1713.3V1766.0M582.84 1713.3V1766.0M595.09 1713.3V1766.0M607.33 1713.3V1766.0M619.57 1713.3V1766.0M631.82 1713.3V1766.0M644.06 1713.3V1766.0M656.31 1713.3V1766.0M668.55 1713.3V1766.0M680.79 1713.3V1766.0M693.04 1713.3V1766.0M705.28 1713.3V1766.0M717.53 1713.3V1766.0M729.77 1713.3V1766.0M742.01 1713.3V1766.0M754.26 1713.3V1766.0M766.50 1713.3V1766.0M778.74 1713.3V1766.0M790.99 1713.3V1766.0M803.23 1713.3V1766.0M815.48 1713.3V1766.0M827.72 1713.3V1766.0M839.96 1713.3V1766.0M852.21 1713.3V1766.0M864.45 1713.3V1766.0M876.70 1713.3V1766.0M888.94 1713.3V1766.0M901.18 1713.3V1766.0M913.43 1713.3V1766.0M925.67 1713.3V1766.0M937.92 1713.3V1766.0M950.16 1713.3V1766.0M962.40 1713.3V1766.0M974.65 1713.3V1766.0M986.89 1713.3V1766.0M999.14 1713.3V1766.0M1011.38 1713.3V1766.0M1023.62 1713.3V1766.0M1035.87 1713.3V1766.0M1048.11 1713.3V1766.0M1060.36 1713.3V1766.0M1072.60 1713.3V1766.0M1084.84 1713.3V1766.0M1097.09 1713.3V1766.0M1109.33 1713.3V1766.0M1121.57 1713.3V1766.0M1133.82 1713.3V1766.0M1146.06 1713.3V1766.0M1158.31 1713.3V1766.0M1170.55 1713.3V1766.0M1182.79 1713.3V1766.0M1195.04 1713.3V1766.0M1207.28 1713.3V1766.0M1219.53 1713.3V1766.0M1231.77 1713.3V1766.0M1244.01 1713.3V1766.0M1256.26 1713.3V1766.0M1268.50 1713.3V1766.0M1280.75 1713.3V1766.0M1292.99 1713.3V1766.0M1305.23 1713.3V1766.0M1317.48 1713.3V1766.0M1329.72 1713.3V1766.0M1341.97 1713.3V1766.0M1354.21 1713.3V1766.0M1366.45 1713.3V1766.0M1378.70 1713.3V1766.0M1390.94 1713.3V1766.0M1403.19 1713.3V1766.0M1415.43 1713.3V1766.0M1427.67 1713.3V1766.0M1439.92 1713.3V1766.0M1452.16 1713.3V1766.0M1464.40 1713.3V1766.0M1476.65 1713.3V1766.0M1488.89 1713.3V1766.0M1501.14 1713.3V1766.0M1513.38 1713.3V1766.0M1525.62 1713.3V1766.0M1537.87 1713.3V1766.0M1550.11 1713.3V1766.0M1562.36 1713.3V1766.0" stroke="#000" stroke-width="1.5" fill="none"/>
<g font-size="16.2" fill="#000" stroke="#000" stroke-width="0.35">
<text transform="translate(276.1,1754.8) rotate(-90)">1</text>
<text transform="translate(288.4,1754.8) rotate(-90)">2</text>
<text transform="translate(300.6,1754.8) rotate(-90)">3</text>
<text transform="translate(312.9,1754.8) rotate(-90)">4</text>
<text transform="translate(325.1,1754.8) rotate(-90)">5</text>
<text transform="translate(337.4,1754.8) rotate(-90)">6</text>
<text transform="translate(349.6,1754.8) rotate(-90)">7</text>
<text transform="translate(361.9,1754.8) rotate(-90)">8</text>
<text transform="translate(374.1,1754.8) rotate(-90)">9</text>
<text transform="translate(386.3,1754.8) rotate(-90)" textLength="17.5" lengthAdjust="spacingAndGlyphs">10</text>
<text transform="translate(398.6,1754.8) rotate(-90)" textLength="17.5" lengthAdjust="spacingAndGlyphs">11</text>
<text transform="translate(410.8,1754.8) rotate(-90)" textLength="17.5" lengthAdjust="spacingAndGlyphs">12</text>
<text transform="translate(423.1,1754.8) rotate(-90)" textLength="17.5" lengthAdjust="spacingAndGlyphs">13</text>
<text transform="translate(435.3,1754.8) rotate(-90)" textLength="17.5" lengthAdjust="spacingAndGlyphs">14</text>
<text transform="translate(447.6,1754.8) rotate(-90)" textLength="17.5" lengthAdjust="spacingAndGlyphs">15</text>
<text transform="translate(459.8,1754.8) rotate(-90)" textLength="17.5" lengthAdjust="spacingAndGlyphs">16</text>
<text transform="translate(472.0,1754.8) rotate(-90)" textLength="17.5" lengthAdjust="spacingAndGlyphs">17</text>
<text transform="translate(484.3,1754.8) rotate(-90)" textLength="17.5" lengthAdjust="spacingAndGlyphs">18</text>
<text transform="translate(496.5,1754.8) rotate(-90)" textLength="17.5" lengthAdjust="spacingAndGlyphs">19</text>
<text transform="translate(508.8,1754.8) rotate(-90)" textLength="17.5" lengthAdjust="spacingAndGlyphs">20</text>
<text transform="translate(521.0,1754.8) rotate(-90)" textLength="17.5" lengthAdjust="spacingAndGlyphs">21</text>
<text transform="translate(533.3,1754.8) rotate(-90)" textLength="17.5" lengthAdjust="spacingAndGlyphs">22</text>
<text transform="translate(545.5,1754.8) rotate(-90)" textLength="17.5" lengthAdjust="spacingAndGlyphs">23</text>
<text transform="translate(557.8,1754.8) rotate(-90)" textLength="17.5" lengthAdjust="spacingAndGlyphs">24</text>
<text transform="translate(570.0,1754.8) rotate(-90)" textLength="17.5" lengthAdjust="spacingAndGlyphs">25</text>
<text transform="translate(582.2,1754.8) rotate(-90)" textLength="17.5" lengthAdjust="spacingAndGlyphs">26</text>
<text transform="translate(594.5,1754.8) rotate(-90)" textLength="17.5" lengthAdjust="spacingAndGlyphs">27</text>
<text transform="translate(606.7,1754.8) rotate(-90)" textLength="17.5" lengthAdjust="spacingAndGlyphs">28</text>
<text transform="translate(619.0,1754.8) rotate(-90)" textLength="17.5" lengthAdjust="spacingAndGlyphs">29</text>
<text transform="translate(631.2,1754.8) rotate(-90)" textLength="17.5" lengthAdjust="spacingAndGlyphs">30</text>
<text transform="translate(643.5,1754.8) rotate(-90)" textLength="17.5" lengthAdjust="spacingAndGlyphs">31</text>
<text transform="translate(655.7,1754.8) rotate(-90)" textLength="17.5" lengthAdjust="spacingAndGlyphs">32</text>
<text transform="translate(667.9,1754.8) rotate(-90)" textLength="17.5" lengthAdjust="spacingAndGlyphs">33</text>
<text transform="translate(680.2,1754.8) rotate(-90)" textLength="17.5" lengthAdjust="spacingAndGlyphs">34</text>
<text transform="translate(692.4,1754.8) rotate(-90)" textLength="17.5" lengthAdjust="spacingAndGlyphs">35</text>
<text transform="translate(704.7,1754.8) rotate(-90)" textLength="17.5" lengthAdjust="spacingAndGlyphs">36</text>
<text transform="translate(716.9,1754.8) rotate(-90)" textLength="17.5" lengthAdjust="spacingAndGlyphs">37</text>
<text transform="translate(729.2,1754.8) rotate(-90)" textLength="17.5" lengthAdjust="spacingAndGlyphs">38</text>
<text transform="translate(741.4,1754.8) rotate(-90)" textLength="17.5" lengthAdjust="spacingAndGlyphs">39</text>
<text transform="translate(753.7,1754.8) rotate(-90)" textLength="17.5" lengthAdjust="spacingAndGlyphs">40</text>
<text transform="translate(765.9,1754.8) rotate(-90)" textLength="17.5" lengthAdjust="spacingAndGlyphs">41</text>
<text transform="translate(778.1,1754.8) rotate(-90)" textLength="17.5" lengthAdjust="spacingAndGlyphs">42</text>
<text transform="translate(790.4,1754.8) rotate(-90)" textLength="17.5" lengthAdjust="spacingAndGlyphs">43</text>
<text transform="translate(802.6,1754.8) rotate(-90)" textLength="17.5" lengthAdjust="spacingAndGlyphs">44</text>
<text transform="translate(814.9,1754.8) rotate(-90)" textLength="17.5" lengthAdjust="spacingAndGlyphs">45</text>
<text transform="translate(827.1,1754.8) rotate(-90)" textLength="17.5" lengthAdjust="spacingAndGlyphs">46</text>
<text transform="translate(839.4,1754.8) rotate(-90)" textLength="17.5" lengthAdjust="spacingAndGlyphs">47</text>
<text transform="translate(851.6,1754.8) rotate(-90)" textLength="17.5" lengthAdjust="spacingAndGlyphs">48</text>
<text transform="translate(863.9,1754.8) rotate(-90)" textLength="17.5" lengthAdjust="spacingAndGlyphs">49</text>
<text transform="translate(876.1,1754.8) rotate(-90)" textLength="17.5" lengthAdjust="spacingAndGlyphs">50</text>
<text transform="translate(888.3,1754.8) rotate(-90)" textLength="17.5" lengthAdjust="spacingAndGlyphs">51</text>
<text transform="translate(900.6,1754.8) rotate(-90)" textLength="17.5" lengthAdjust="spacingAndGlyphs">52</text>
<text transform="translate(912.8,1754.8) rotate(-90)" textLength="17.5" lengthAdjust="spacingAndGlyphs">53</text>
<text transform="translate(925.1,1754.8) rotate(-90)" textLength="17.5" lengthAdjust="spacingAndGlyphs">54</text>
<text transform="translate(937.3,1754.8) rotate(-90)" textLength="17.5" lengthAdjust="spacingAndGlyphs">55</text>
<text transform="translate(949.6,1754.8) rotate(-90)" textLength="17.5" lengthAdjust="spacingAndGlyphs">56</text>
<text transform="translate(961.8,1754.8) rotate(-90)" textLength="17.5" lengthAdjust="spacingAndGlyphs">57</text>
<text transform="translate(974.0,1754.8) rotate(-90)" textLength="17.5" lengthAdjust="spacingAndGlyphs">58</text>
<text transform="translate(986.3,1754.8) rotate(-90)" textLength="17.5" lengthAdjust="spacingAndGlyphs">59</text>
<text transform="translate(998.5,1754.8) rotate(-90)" textLength="17.5" lengthAdjust="spacingAndGlyphs">60</text>
<text transform="translate(1010.8,1754.8) rotate(-90)" textLength="17.5" lengthAdjust="spacingAndGlyphs">61</text>
<text transform="translate(1023.0,1754.8) rotate(-90)" textLength="17.5" lengthAdjust="spacingAndGlyphs">62</text>
<text transform="translate(1035.3,1754.8) rotate(-90)" textLength="17.5" lengthAdjust="spacingAndGlyphs">63</text>
<text transform="translate(1047.5,1754.8) rotate(-90)" textLength="17.5" lengthAdjust="spacingAndGlyphs">64</text>
<text transform="translate(1059.8,1754.8) rotate(-90)" textLength="17.5" lengthAdjust="spacingAndGlyphs">65</text>
<text transform="translate(1072.0,1754.8) rotate(-90)" textLength="17.5" lengthAdjust="spacingAndGlyphs">66</text>
<text transform="translate(1084.2,1754.8) rotate(-90)" textLength="17.5" lengthAdjust="spacingAndGlyphs">67</text>
<text transform="translate(1096.5,1754.8) rotate(-90)" textLength="17.5" lengthAdjust="spacingAndGlyphs">68</text>
<text transform="translate(1108.7,1754.8) rotate(-90)" textLength="17.5" lengthAdjust="spacingAndGlyphs">69</text>
<text transform="translate(1121.0,1754.8) rotate(-90)" textLength="17.5" lengthAdjust="spacingAndGlyphs">70</text>
<text transform="translate(1133.2,1754.8) rotate(-90)" textLength="17.5" lengthAdjust="spacingAndGlyphs">71</text>
<text transform="translate(1145.5,1754.8) rotate(-90)" textLength="17.5" lengthAdjust="spacingAndGlyphs">72</text>
<text transform="translate(1157.7,1754.8) rotate(-90)" textLength="17.5" lengthAdjust="spacingAndGlyphs">73</text>
<text transform="translate(1170.0,1754.8) rotate(-90)" textLength="17.5" lengthAdjust="spacingAndGlyphs">74</text>
<text transform="translate(1182.2,1754.8) rotate(-90)" textLength="17.5" lengthAdjust="spacingAndGlyphs">75</text>
<text transform="translate(1194.4,1754.8) rotate(-90)" textLength="17.5" lengthAdjust="spacingAndGlyphs">76</text>
<text transform="translate(1206.7,1754.8) rotate(-90)" textLength="17.5" lengthAdjust="spacingAndGlyphs">77</text>
<text transform="translate(1218.9,1754.8) rotate(-90)" textLength="17.5" lengthAdjust="spacingAndGlyphs">78</text>
<text transform="translate(1231.2,1754.8) rotate(-90)" textLength="17.5" lengthAdjust="spacingAndGlyphs">79</text>
<text transform="translate(1243.4,1754.8) rotate(-90)" textLength="17.5" lengthAdjust="spacingAndGlyphs">80</text>
<text transform="translate(1255.7,1754.8) rotate(-90)" textLength="17.5" lengthAdjust="spacingAndGlyphs">81</text>
<text transform="translate(1267.9,1754.8) rotate(-90)" textLength="17.5" lengthAdjust="spacingAndGlyphs">82</text>
<text transform="translate(1280.1,1754.8) rotate(-90)" textLength="17.5" lengthAdjust="spacingAndGlyphs">83</text>
<text transform="translate(1292.4,1754.8) rotate(-90)" textLength="17.5" lengthAdjust="spacingAndGlyphs">84</text>
<text transform="translate(1304.6,1754.8) rotate(-90)" textLength="17.5" lengthAdjust="spacingAndGlyphs">85</text>
<text transform="translate(1316.9,1754.8) rotate(-90)" textLength="17.5" lengthAdjust="spacingAndGlyphs">86</text>
<text transform="translate(1329.1,1754.8) rotate(-90)" textLength="17.5" lengthAdjust="spacingAndGlyphs">87</text>
<text transform="translate(1341.4,1754.8) rotate(-90)" textLength="17.5" lengthAdjust="spacingAndGlyphs">88</text>
<text transform="translate(1353.6,1754.8) rotate(-90)" textLength="17.5" lengthAdjust="spacingAndGlyphs">89</text>
<text transform="translate(1365.9,1754.8) rotate(-90)" textLength="17.5" lengthAdjust="spacingAndGlyphs">90</text>
<text transform="translate(1378.1,1754.8) rotate(-90)" textLength="17.5" lengthAdjust="spacingAndGlyphs">91</text>
<text transform="translate(1390.3,1754.8) rotate(-90)" textLength="17.5" lengthAdjust="spacingAndGlyphs">92</text>
<text transform="translate(1402.6,1754.8) rotate(-90)" textLength="17.5" lengthAdjust="spacingAndGlyphs">93</text>
<text transform="translate(1414.8,1754.8) rotate(-90)" textLength="17.5" lengthAdjust="spacingAndGlyphs">94</text>
<text transform="translate(1427.1,1754.8) rotate(-90)" textLength="17.5" lengthAdjust="spacingAndGlyphs">95</text>
<text transform="translate(1439.3,1754.8) rotate(-90)" textLength="17.5" lengthAdjust="spacingAndGlyphs">96</text>
<text transform="translate(1451.6,1754.8) rotate(-90)" textLength="17.5" lengthAdjust="spacingAndGlyphs">97</text>
<text transform="translate(1463.8,1754.8) rotate(-90)" textLength="17.5" lengthAdjust="spacingAndGlyphs">98</text>
<text transform="translate(1476.0,1754.8) rotate(-90)" textLength="17.5" lengthAdjust="spacingAndGlyphs">99</text>
<text transform="translate(1488.3,1754.8) rotate(-90)" textLength="26.2" lengthAdjust="spacingAndGlyphs">100</text>
<text transform="translate(1500.5,1754.8) rotate(-90)" textLength="26.2" lengthAdjust="spacingAndGlyphs">101</text>
<text transform="translate(1512.8,1754.8) rotate(-90)" textLength="26.2" lengthAdjust="spacingAndGlyphs">102</text>
<text transform="translate(1525.0,1754.8) rotate(-90)" textLength="26.2" lengthAdjust="spacingAndGlyphs">103</text>
<text transform="translate(1537.3,1754.8) rotate(-90)" textLength="26.2" lengthAdjust="spacingAndGlyphs">104</text>
<text transform="translate(1549.5,1754.8) rotate(-90)" textLength="26.2" lengthAdjust="spacingAndGlyphs">105</text>
<text transform="translate(1561.8,1754.8) rotate(-90)" textLength="26.2" lengthAdjust="spacingAndGlyphs">106</text>
<text transform="translate(1574.0,1754.8) rotate(-90)" textLength="26.2" lengthAdjust="spacingAndGlyphs">107</text>
</g>
<path d="M8.3 1896.4H29.8M74.8 1896.4H119.7M164.8 1896.4H210M254 1896.4H264" stroke="#1a1a1a" stroke-width="2.6" fill="none"/>
<text x="258.5" y="1746.0" font-size="24.4" text-anchor="end" font-weight="bold" fill="#1a1a1a" stroke="#1a1a1a" stroke-width="0.3" textLength="105.8" lengthAdjust="spacingAndGlyphs">Model ID</text>
<text x="252.5" y="1792.2" font-size="24.4" text-anchor="end" font-weight="bold" fill="#1a1a1a" stroke="#1a1a1a" stroke-width="0.3" textLength="75.7" lengthAdjust="spacingAndGlyphs">Family</text>
<text x="252.5" y="1835.0" font-size="24.4" text-anchor="end" font-weight="bold" fill="#1a1a1a" stroke="#1a1a1a" stroke-width="0.3" textLength="57.3" lengthAdjust="spacingAndGlyphs">Class</text>
<text x="248.3" y="1881.2" font-size="24.4" text-anchor="end" font-weight="bold" fill="#1a1a1a" stroke="#1a1a1a" stroke-width="0.3" textLength="54.3" lengthAdjust="spacingAndGlyphs">Type</text>
<text x="258.5" y="1928.2" font-size="24.4" text-anchor="end" font-weight="bold" fill="#1a1a1a" stroke="#1a1a1a" stroke-width="0.3" textLength="182.0" lengthAdjust="spacingAndGlyphs">Match in UMAP</text>
<text x="254.2" y="1971.4" font-size="24.4" text-anchor="end" font-weight="bold" fill="#1a1a1a" stroke="#1a1a1a" stroke-width="0.3" textLength="136.5" lengthAdjust="spacingAndGlyphs">Match in RF</text>
<text x="253.4" y="2018.9" font-size="24.4" text-anchor="end" font-weight="bold" fill="#1a1a1a" stroke="#1a1a1a" stroke-width="0.3" textLength="191.8" lengthAdjust="spacingAndGlyphs">Match to human</text>
<g fill="#1f1d1d"><path d="M23.6 1835.2c-0.6-1.6 0.6-3.3 2.6-4.0c0.5-1.0 0.6-2.0 0.4-3.4c-0.9-3.4 1.0-7.0 4.6-8.2c3.2-1.0 6.5 0.5 8.0 3.4c2.0-0.6 4.4-0.6 6.4 0.2c3.6 1.4 5.8 5.0 5.9 9.0l0.1 3.2c0 1.6-1.0 2.6-2.6 2.9c-3.0 0.5-6.4 0.7-10.0 0.7l-11.0-0.2c-2.2 0-3.8-1.6-4.4-3.6z"/><path d="M48.5 1836.1c4.2 0.2 9.2-0.2 13.0-1.4c3.6-1.2 5.6-3.2 5.0-5.4c-0.6-2.2-3.6-3.2-7.2-4.6c-3.6-1.4-6.0-2.6-5.8-4.4c0.2-1.8 3.4-3.4 7.0-4.9" fill="none" stroke="#1f1d1d" stroke-width="2.9"/></g>
<g fill="#222020"><circle cx="35.2" cy="1955.3" r="6.2"/><path d="M28.3 1966.2c0-1.9 1.5-3.3 3.3-3.3h7.1c1.8 0 3.3 1.4 3.3 3.3v25.6c0 1.2-1 2.2-2.2 2.2s-2.2-1-2.2-2.2v-10.2h-4.9v10.2c0 1.2-1 2.2-2.2 2.2s-2.2-1-2.2-2.2z"/><path d="M31.5 1965.2L21.3 1972.3M38.9 1965.2L49.2 1972.0" fill="none" stroke="#222020" stroke-width="4.3" stroke-linecap="round"/></g>
<text x="1599.5" y="1701.8" font-size="18.9" font-weight="bold" stroke="#000" stroke-width="0.3" textLength="139.3" lengthAdjust="spacingAndGlyphs">Match in UMAP</text>
<rect x="1600.40" y="1711.55" width="12.70" height="12.70" fill="#3c55a8"/>
<text x="1617.0" y="1723.8" font-size="18.7" stroke="#000" stroke-width="0.45" textLength="41.3" lengthAdjust="spacingAndGlyphs">ATRT</text>
<rect x="1600.40" y="1729.19" width="12.70" height="12.70" fill="#555a50"/>
<text x="1617.0" y="1741.4" font-size="18.7" stroke="#000" stroke-width="0.45" textLength="63.5" lengthAdjust="spacingAndGlyphs">Control</text>
<rect x="1600.40" y="1746.83" width="12.70" height="12.70" fill="#9ccf8b"/>
<text x="1617.0" y="1759.1" font-size="18.7" stroke="#000" stroke-width="0.45" textLength="81.1" lengthAdjust="spacingAndGlyphs">DMG K27</text>
<rect x="1600.40" y="1764.47" width="12.70" height="12.70" fill="#84842b"/>
<text x="1617.0" y="1776.7" font-size="18.7" stroke="#000" stroke-width="0.45" textLength="42.6" lengthAdjust="spacingAndGlyphs">GBM</text>
<rect x="1600.40" y="1782.11" width="12.70" height="12.70" fill="#556b2f"/>
<text x="1617.0" y="1794.4" font-size="18.7" stroke="#000" stroke-width="0.45" textLength="121.2" lengthAdjust="spacingAndGlyphs">Glio−neuronal</text>
<rect x="1600.40" y="1799.75" width="12.70" height="12.70" fill="#1a6b3a"/>
<text x="1617.0" y="1812.0" font-size="18.7" stroke="#000" stroke-width="0.45" textLength="111.9" lengthAdjust="spacingAndGlyphs">Other glioma</text>
<rect x="1600.40" y="1817.39" width="12.70" height="12.70" fill="#5956a8"/>
<text x="1617.0" y="1829.6" font-size="18.7" stroke="#000" stroke-width="0.45" textLength="75.6" lengthAdjust="spacingAndGlyphs">MB_SHH</text>
<rect x="1600.40" y="1835.03" width="12.70" height="12.70" fill="#952525"/>
<text x="1617.0" y="1847.3" font-size="18.7" stroke="#000" stroke-width="0.45" textLength="119.2" lengthAdjust="spacingAndGlyphs">Mesenchymal</text>
<rect x="1600.40" y="1852.67" width="12.70" height="12.70" fill="#8fd08f"/>
<text x="1617.0" y="1864.9" font-size="18.7" stroke="#000" stroke-width="0.45" textLength="52.0" lengthAdjust="spacingAndGlyphs">Pineal</text>
<text x="1598.6" y="1917.9" font-size="18.9" font-weight="bold" stroke="#000" stroke-width="0.3" textLength="104.5" lengthAdjust="spacingAndGlyphs">Match in RF</text>
<rect x="1599.70" y="1927.25" width="12.70" height="12.70" fill="#3c55a8"/>
<text x="1618.7" y="1939.8" font-size="18.7" stroke="#000" stroke-width="0.45" textLength="41.3" lengthAdjust="spacingAndGlyphs">ATRT</text>
<rect x="1599.70" y="1944.35" width="12.70" height="12.70" fill="#f68b1f"/>
<text x="1618.7" y="1956.9" font-size="18.7" stroke="#000" stroke-width="0.45" textLength="122.0" lengthAdjust="spacingAndGlyphs">ChoroidPlexus</text>
<rect x="1599.70" y="1961.45" width="12.70" height="12.70" fill="#555a50"/>
<text x="1618.7" y="1974.0" font-size="18.7" stroke="#000" stroke-width="0.45" textLength="63.5" lengthAdjust="spacingAndGlyphs">Control</text>
<rect x="1599.70" y="1978.55" width="12.70" height="12.70" fill="#2090d8"/>
<text x="1618.7" y="1991.1" font-size="18.7" stroke="#000" stroke-width="0.45" textLength="49.8" lengthAdjust="spacingAndGlyphs">ETMR</text>
<rect x="1599.70" y="1995.65" width="12.70" height="12.70" fill="#556b2f"/>
<text x="1618.7" y="2008.2" font-size="18.7" stroke="#000" stroke-width="0.45" textLength="121.2" lengthAdjust="spacingAndGlyphs">Glio−neuronal</text>
<rect x="1599.70" y="2012.75" width="12.70" height="12.70" fill="#f7e017"/>
<text x="1618.7" y="2025.3" font-size="18.7" stroke="#000" stroke-width="0.45" textLength="104.7" lengthAdjust="spacingAndGlyphs">IDH−mutant</text>
<rect x="1599.70" y="2029.85" width="12.70" height="12.70" fill="#3cc0c8"/>
<text x="1621.3" y="2042.4" font-size="18.7" stroke="#000" stroke-width="0.45" textLength="39.8" lengthAdjust="spacingAndGlyphs">Sella</text>
<rect x="1599.70" y="2046.95" width="12.70" height="12.70" fill="#5956a8"/>
<text x="1621.3" y="2059.5" font-size="18.7" stroke="#000" stroke-width="0.45" textLength="75.6" lengthAdjust="spacingAndGlyphs">MB_SHH</text>
<rect x="1598.40" y="2064.05" width="12.70" height="12.70" fill="#952525"/>
<text x="1615.7" y="2076.6" font-size="18.7" stroke="#000" stroke-width="0.45" textLength="119.2" lengthAdjust="spacingAndGlyphs">Mesenchymal</text>
<rect x="1598.40" y="2081.15" width="12.70" height="12.70" fill="#8fd08f"/>
<text x="1615.7" y="2093.7" font-size="18.7" stroke="#000" stroke-width="0.45" textLength="52.0" lengthAdjust="spacingAndGlyphs">Pineal</text>
<text x="1804.6" y="1705.6" font-size="19.1" font-weight="bold" fill="#1a1a1a" stroke="#1a1a1a" stroke-width="0.3" textLength="64.4" lengthAdjust="spacingAndGlyphs">p-value</text>
<text x="1869.4" y="1731.9" font-size="19.0" fill="#1a1a1a" stroke="#1a1a1a" stroke-width="0.45" textLength="51.4" lengthAdjust="spacingAndGlyphs">&lt; 0.05</text>
<text x="1861.2" y="1736.9" font-size="21" font-weight="bold" font-family="DejaVu Sans,sans-serif" text-anchor="end" fill="#1a1a1a">*</text>
<text x="1869.4" y="1750.5" font-size="19.0" fill="#1a1a1a" stroke="#1a1a1a" stroke-width="0.45" textLength="51.4" lengthAdjust="spacingAndGlyphs">&lt; 0.01</text>
<text x="1861.2" y="1755.5" font-size="21" font-weight="bold" font-family="DejaVu Sans,sans-serif" text-anchor="end" fill="#1a1a1a" textLength="25.0" lengthAdjust="spacing">**</text>
<text x="1869.4" y="1768.0" font-size="19.0" fill="#1a1a1a" stroke="#1a1a1a" stroke-width="0.45" textLength="61.9" lengthAdjust="spacingAndGlyphs">&lt; 0.001</text>
<text x="1861.2" y="1773.0" font-size="21" font-weight="bold" font-family="DejaVu Sans,sans-serif" text-anchor="end" fill="#1a1a1a" textLength="39.2" lengthAdjust="spacing">***</text>
<text x="1869.4" y="1787.3" font-size="19.0" fill="#1a1a1a" stroke="#1a1a1a" stroke-width="0.45" textLength="72.3" lengthAdjust="spacingAndGlyphs">&lt; 0.0001</text>
<text x="1861.2" y="1792.3" font-size="21" font-weight="bold" font-family="DejaVu Sans,sans-serif" text-anchor="end" fill="#1a1a1a" textLength="53.4" lengthAdjust="spacing">****</text>
<text x="1803.8" y="1825.1" font-size="19.1" font-weight="bold" stroke="#000" stroke-width="0.3" textLength="144.0" lengthAdjust="spacingAndGlyphs">Match to human</text>
<rect x="1805.10" y="1835.80" width="12.70" height="12.20" fill="#d2d2d2"/>
<text x="1830.0" y="1848.0" font-size="19.3" stroke="#000" stroke-width="0.45" textLength="24.6" lengthAdjust="spacingAndGlyphs">No</text>
<rect x="1805.10" y="1857.90" width="12.70" height="12.20" fill="#999999"/>
<text x="1828.5" y="1870.1" font-size="19.3" stroke="#000" stroke-width="0.45" textLength="21.0" lengthAdjust="spacingAndGlyphs">RF</text>
<rect x="1805.10" y="1879.50" width="12.70" height="12.20" fill="#6e6e6e"/>
<text x="1828.5" y="1891.7" font-size="19.3" stroke="#000" stroke-width="0.45" textLength="54.5" lengthAdjust="spacingAndGlyphs">UMAP</text>
<rect x="1805.10" y="1901.40" width="12.70" height="12.20" fill="#030303"/>
<text x="1828.5" y="1913.6" font-size="19.3" stroke="#000" stroke-width="0.45" textLength="167.2" lengthAdjust="spacingAndGlyphs">both, RF and UMAP</text>
</g>
<g id="panel-c">
<text x="5.6" y="2092.9" font-size="31.5" font-weight="bold" fill="#1a1a1a" stroke="#1a1a1a" stroke-width="1.1" stroke-linejoin="round">c</text>
<path d="M106.2 2087.5V2680.3M88 2666.8H480.2" stroke="#111" stroke-width="1.6" fill="none"/>
<circle cx="106.0" cy="2114.2" r="10.0" fill="#a8c887"/>
<circle cx="462.3" cy="2419.2" r="9.8" fill="#832a86"/>
<circle cx="106.0" cy="2561.3" r="9.3" fill="#7177bf"/>
<circle cx="106.0" cy="2583.3" r="12.8" fill="#f58a1f"/>
<circle cx="106.6" cy="2645.7" r="17.7" fill="#5bc8e8"/>
<circle cx="105.9" cy="2640.3" r="16.9" fill="#3d5c2f"/>
<circle cx="105.9" cy="2642.2" r="13.3" fill="#687a30"/>
<circle cx="106.2" cy="2622.5" r="12.7" fill="#72c8a0"/>
<circle cx="106.2" cy="2646.9" r="9.8" fill="#4a4aaa"/>
<circle cx="169.6" cy="2652.0" r="25.6" fill="#a8c83d"/>
<circle cx="284.7" cy="2626.0" r="15.8" fill="#14253a"/>
<circle cx="284.7" cy="2652.4" r="12.8" fill="#7a8230"/>
<circle cx="344.5" cy="2649.6" r="16.3" fill="#c3cccb"/>
<circle cx="343.5" cy="2653.2" r="16.6" fill="#0f3029"/>
<circle cx="461.9" cy="2557.0" r="12.6" fill="#48687c"/>
<circle cx="461.9" cy="2567.6" r="20.4" fill="#4a55b0"/>
<circle cx="461.9" cy="2555.3" r="11.6" fill="#8a96d1" stroke="#48687c" stroke-width="1.6"/>
<circle cx="461.9" cy="2577.0" r="9.4" fill="#2090d8"/>
<text x="81.6" y="2671.0" font-size="16.0" text-anchor="end" fill="#4d4d4d" stroke="#4d4d4d" stroke-width="0.4">0</text>
<text x="81.6" y="2490.5" font-size="16.0" text-anchor="end" fill="#4d4d4d" stroke="#4d4d4d" stroke-width="0.4">5</text>
<text x="81.6" y="2310.0" font-size="16.0" text-anchor="end" fill="#4d4d4d" stroke="#4d4d4d" stroke-width="0.4" textLength="17.6" lengthAdjust="spacingAndGlyphs">10</text>
<text x="81.6" y="2129.5" font-size="16.0" text-anchor="end" fill="#4d4d4d" stroke="#4d4d4d" stroke-width="0.4" textLength="17.6" lengthAdjust="spacingAndGlyphs">15</text>
<text x="106.0" y="2697.0" font-size="16.2" text-anchor="middle" fill="#4d4d4d" stroke="#4d4d4d" stroke-width="0.4">0</text>
<text x="196.5" y="2697.0" font-size="16.2" text-anchor="middle" fill="#4d4d4d" stroke="#4d4d4d" stroke-width="0.4" textLength="17.8" lengthAdjust="spacingAndGlyphs">25</text>
<text x="287.0" y="2697.0" font-size="16.2" text-anchor="middle" fill="#4d4d4d" stroke="#4d4d4d" stroke-width="0.4" textLength="17.8" lengthAdjust="spacingAndGlyphs">50</text>
<text x="377.5" y="2697.0" font-size="16.2" text-anchor="middle" fill="#4d4d4d" stroke="#4d4d4d" stroke-width="0.4" textLength="17.8" lengthAdjust="spacingAndGlyphs">75</text>
<text x="468.0" y="2697.0" font-size="16.2" text-anchor="middle" fill="#4d4d4d" stroke="#4d4d4d" stroke-width="0.4" textLength="26.8" lengthAdjust="spacingAndGlyphs">100</text>
<text x="296.8" y="2718.0" font-size="19.2" text-anchor="middle" fill="#111" stroke="#111" stroke-width="0.45" textLength="125.1" lengthAdjust="spacingAndGlyphs">Percent Match</text>
<text transform="translate(55.6,2358.5) rotate(-90)" font-size="19.4" stroke="#111" stroke-width="0.4" text-anchor="middle" fill="#111" textLength="273.0" lengthAdjust="spacingAndGlyphs">Distance to next entity in UMAP</text>
<path d="M71.6 2627.2L89.7 2635.1M77.1 2646.9L88.1 2646.1M115.7 2661L125.1 2672.9M131.4 2617.8L120.4 2631.9M362.4 2629.6L353.8 2637.4M322 2657.1L316.8 2670.5M358.5 2661.8L368.7 2667.3" stroke="#111" stroke-width="1.6" fill="none"/>
<text x="116.0" y="2107.5" font-size="16.0" fill="#111" stroke="#111" stroke-width="0.4" textLength="97.8" lengthAdjust="spacingAndGlyphs">Ependymoma</text>
<text x="221.6" y="2107.5" font-size="16.0" fill="#111" stroke="#111" stroke-width="0.4" textLength="26.3" lengthAdjust="spacingAndGlyphs">YAP</text>
<text x="249.8" y="2424.3" font-size="16.0" fill="#111" stroke="#111" stroke-width="0.4" textLength="28.5" lengthAdjust="spacingAndGlyphs">CNS</text>
<text x="286.2" y="2424.3" font-size="16.0" fill="#111" stroke="#111" stroke-width="0.4" textLength="107.7" lengthAdjust="spacingAndGlyphs">neuroblastoma</text>
<text x="401.7" y="2424.3" font-size="16.0" fill="#111" stroke="#111" stroke-width="0.4" textLength="46.8" lengthAdjust="spacingAndGlyphs">FOXR2</text>
<text x="116.0" y="2548.3" font-size="16.0" fill="#111" stroke="#111" stroke-width="0.4" textLength="63.5" lengthAdjust="spacingAndGlyphs">MB WNT</text>
<text x="120.0" y="2584.6" font-size="16.0" fill="#111" stroke="#111" stroke-width="0.4" textLength="124.6" lengthAdjust="spacingAndGlyphs">Plexus Carcinoma</text>
<text x="74.0" y="2606.5" font-size="16.0" fill="#111" stroke="#111" stroke-width="0.4" textLength="28.1" lengthAdjust="spacingAndGlyphs">PXA</text>
<text x="120.8" y="2614.0" font-size="16.0" fill="#111" stroke="#111" stroke-width="0.4" textLength="97.8" lengthAdjust="spacingAndGlyphs">Ependymoma</text>
<text x="226.4" y="2614.0" font-size="16.0" fill="#111" stroke="#111" stroke-width="0.4" textLength="33.5" lengthAdjust="spacingAndGlyphs">ZFTA</text>
<text x="182.5" y="2632.7" font-size="16.0" fill="#111" stroke="#111" stroke-width="0.4" textLength="73.5" lengthAdjust="spacingAndGlyphs">IDH H3WT</text>
<text x="24.0" y="2634.5" font-size="16.0" fill="#111" stroke="#111" stroke-width="0.4" textLength="48.3" lengthAdjust="spacingAndGlyphs">H3G34</text>
<text x="25.5" y="2651.0" font-size="16.0" fill="#111" stroke="#111" stroke-width="0.4" textLength="48.1" lengthAdjust="spacingAndGlyphs">MB G4</text>
<text x="111.0" y="2687.0" font-size="16.0" fill="#111" stroke="#111" stroke-width="0.4" textLength="48.1" lengthAdjust="spacingAndGlyphs">MB G3</text>
<text x="232.5" y="2664.0" font-size="16.0" fill="#111" stroke="#111" stroke-width="0.4" textLength="35.3" lengthAdjust="spacingAndGlyphs">GBM</text>
<text x="271.5" y="2605.0" font-size="16.0" fill="#111" stroke="#111" stroke-width="0.4" textLength="81.5" lengthAdjust="spacingAndGlyphs">Cerebellum</text>
<text x="353.5" y="2625.8" font-size="16.0" fill="#111" stroke="#111" stroke-width="0.4" textLength="61.2" lengthAdjust="spacingAndGlyphs">H3K27M</text>
<text x="365.5" y="2652.8" font-size="16.0" fill="#111" stroke="#111" stroke-width="0.4" textLength="108.8" lengthAdjust="spacingAndGlyphs">Cerebral cortex</text>
<text x="282.0" y="2683.0" font-size="16.0" fill="#111" stroke="#111" stroke-width="0.4" textLength="72.2" lengthAdjust="spacingAndGlyphs">Brainstem</text>
<text x="359.0" y="2679.8" font-size="16.0" fill="#111" stroke="#111" stroke-width="0.4" textLength="68.1" lengthAdjust="spacingAndGlyphs">Thalamus</text>
<text x="431.5" y="2538.8" font-size="16.0" fill="#111" stroke="#111" stroke-width="0.4" textLength="67.8" lengthAdjust="spacingAndGlyphs">ATRT SHH</text>
<text x="483.0" y="2555.2" font-size="16.0" fill="#111" stroke="#111" stroke-width="0.4" textLength="70.8" lengthAdjust="spacingAndGlyphs">ATRT MYC</text>
<text x="381.0" y="2572.2" font-size="16.0" fill="#111" stroke="#111" stroke-width="0.4" textLength="57.9" lengthAdjust="spacingAndGlyphs">MB SHH</text>
<text x="447.0" y="2605.3" font-size="16.0" fill="#111" stroke="#111" stroke-width="0.4" textLength="41.3" lengthAdjust="spacingAndGlyphs">ETMR</text>
<text x="509.8" y="2153.5" font-size="19.5" fill="#111" stroke="#111" stroke-width="0.45" textLength="162.2" lengthAdjust="spacingAndGlyphs">Number of Models</text>
<circle cx="547.9" cy="2182.8" r="17.8" fill="#000"/>
<circle cx="547.9" cy="2234.0" r="22.0" fill="#000"/>
<text x="575.6" y="2192.3" font-size="18.9" fill="#111" stroke="#111" stroke-width="0.45" textLength="20.8" lengthAdjust="spacingAndGlyphs">10</text>
<text x="575.6" y="2244.5" font-size="18.9" fill="#111" stroke="#111" stroke-width="0.45" textLength="20.8" lengthAdjust="spacingAndGlyphs">20</text>
</g>
</svg>
</body></html>
